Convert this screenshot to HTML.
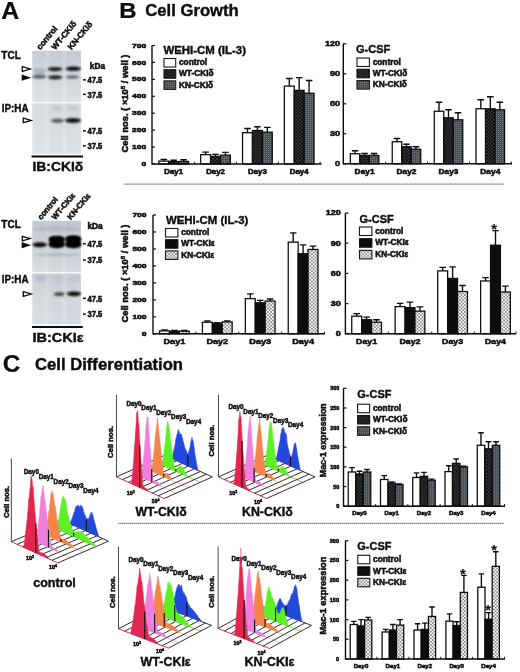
<!DOCTYPE html>
<html><head><meta charset="utf-8"><title>Figure</title>
<style>html,body{margin:0;padding:0;background:#fff;}svg{display:block;}text{font-family:"Liberation Sans",sans-serif;}</style>
</head><body>
<svg width="520" height="672" viewBox="0 0 520 672">
<rect width="520" height="672" fill="#fff"/>
<g filter="url(#soft)">
<defs>
<filter id="b1" x="-20%" y="-100%" width="140%" height="300%"><feGaussianBlur stdDeviation="0.9"/></filter>
<filter id="b2" x="-20%" y="-100%" width="140%" height="300%"><feGaussianBlur stdDeviation="1.3"/></filter>
<filter id="soft" x="0" y="0" width="520" height="672" filterUnits="userSpaceOnUse"><feGaussianBlur stdDeviation="0.33"/></filter>
<pattern id="pWTd" width="3.4" height="3.4" patternUnits="userSpaceOnUse"><rect width="3.4" height="3.4" fill="#0e0e0e"/><rect x="0.2" y="0.2" width="1.1" height="1.1" fill="#707070"/><rect x="1.9" y="1.9" width="1.1" height="1.1" fill="#707070"/></pattern>
<pattern id="pKNd" width="2" height="2" patternUnits="userSpaceOnUse"><rect width="2" height="2" fill="#4c5054"/><rect x="0" y="0" width="1" height="1" fill="#767a80"/></pattern>
<pattern id="pKNe" width="3.4" height="3.4" patternUnits="userSpaceOnUse"><rect width="3.4" height="3.4" fill="#fff"/><rect x="0.2" y="0.2" width="1.3" height="1.3" fill="#3c3c3c"/><rect x="1.9" y="1.9" width="1.3" height="1.3" fill="#3c3c3c"/></pattern>
<linearGradient id="gTCLd" x1="0" y1="0" x2="0" y2="1"><stop offset="0" stop-color="#cdd3d8"/><stop offset=".6" stop-color="#dde2e6"/><stop offset="1" stop-color="#e6eaed"/></linearGradient>
<linearGradient id="gIPd" x1="0" y1="0" x2="0" y2="1"><stop offset="0" stop-color="#dce1e5"/><stop offset="1" stop-color="#e7ebee"/></linearGradient>
<linearGradient id="gTCLe" x1="0" y1="0" x2="0" y2="1"><stop offset="0" stop-color="#c9cfd5"/><stop offset=".6" stop-color="#d6dbe0"/><stop offset="1" stop-color="#dfe4e8"/></linearGradient>
<linearGradient id="gIPe" x1="0" y1="0" x2="0" y2="1"><stop offset="0" stop-color="#d0d6dc"/><stop offset=".5" stop-color="#dbe0e5"/><stop offset="1" stop-color="#e0e5e9"/></linearGradient>
</defs>
<text x="1.20" y="18.50" font-size="23.4" font-weight="bold" text-anchor="start" fill="#0a0a0a" stroke="#0a0a0a" stroke-width="0.2" textLength="18.00" lengthAdjust="spacingAndGlyphs" >A</text>
<text x="119.20" y="17.60" font-size="21.8" font-weight="bold" text-anchor="start" fill="#0a0a0a" stroke="#0a0a0a" stroke-width="0.2" textLength="17.30" lengthAdjust="spacingAndGlyphs" >B</text>
<text x="145.30" y="15.50" font-size="16.2" font-weight="bold" text-anchor="start" fill="#0a0a0a" stroke="#0a0a0a" stroke-width="0.35" textLength="93.50" lengthAdjust="spacingAndGlyphs" >Cell Growth</text>
<text x="2.80" y="371.60" font-size="23.2" font-weight="bold" text-anchor="start" fill="#0a0a0a" stroke="#0a0a0a" stroke-width="0.2" textLength="17.60" lengthAdjust="spacingAndGlyphs" >C</text>
<text x="35.00" y="370.40" font-size="16.3" font-weight="bold" text-anchor="start" fill="#0a0a0a" stroke="#0a0a0a" stroke-width="0.35" textLength="148.00" lengthAdjust="spacingAndGlyphs" >Cell Differentiation</text>
<rect x="32.2" y="50.8" width="48.8" height="51.2" fill="url(#gTCLd)"/>
<rect x="32.2" y="103.4" width="48.8" height="50.9" fill="url(#gIPd)"/>
<rect x="33.5" y="50.8" width="12.5" height="51.2" fill="#5a6470" opacity="0.05" filter="url(#b2)"/>
<rect x="33.5" y="103.4" width="12.5" height="50.9" fill="#5a6470" opacity="0.05" filter="url(#b2)"/>
<rect x="48.5" y="50.8" width="14.5" height="51.2" fill="#5a6470" opacity="0.07" filter="url(#b2)"/>
<rect x="48.5" y="103.4" width="14.5" height="50.9" fill="#5a6470" opacity="0.07" filter="url(#b2)"/>
<rect x="65.5" y="50.8" width="15" height="51.2" fill="#5a6470" opacity="0.07" filter="url(#b2)"/>
<rect x="65.5" y="103.4" width="15" height="50.9" fill="#5a6470" opacity="0.07" filter="url(#b2)"/>
<ellipse cx="55.00" cy="69.10" rx="7.50" ry="2.10" fill="#1c2226" opacity="1" filter="url(#b1)"/>
<ellipse cx="73.25" cy="68.70" rx="7.75" ry="2.10" fill="#0c1114" opacity="1" filter="url(#b1)"/>
<ellipse cx="39.25" cy="76.50" rx="6.75" ry="2.30" fill="#3a4448" opacity="0.75" filter="url(#b1)"/>
<ellipse cx="55.25" cy="77.30" rx="7.25" ry="2.10" fill="#20282c" opacity="1" filter="url(#b1)"/>
<ellipse cx="72.50" cy="77.00" rx="6.50" ry="1.80" fill="#404a50" opacity="0.75" filter="url(#b1)"/>
<ellipse cx="39.50" cy="70.80" rx="6.50" ry="3.00" fill="#7a868c" opacity="0.4" filter="url(#b2)"/>
<ellipse cx="57.50" cy="120.70" rx="6.50" ry="2.20" fill="#36424a" opacity="0.8" filter="url(#b1)"/>
<ellipse cx="73.00" cy="120.40" rx="8.00" ry="2.50" fill="#151515" opacity="1" filter="url(#b1)"/>
<ellipse cx="57.00" cy="108.40" rx="5.00" ry="1.50" fill="#a8aeb4" opacity="0.5" filter="url(#b2)"/>
<ellipse cx="73.00" cy="108.40" rx="6.00" ry="1.50" fill="#a8aeb4" opacity="0.5" filter="url(#b2)"/>
<text x="1.30" y="59.20" font-size="10" font-weight="bold" text-anchor="start" fill="#0a0a0a" stroke="#0a0a0a" stroke-width="0.35" textLength="19.50" lengthAdjust="spacingAndGlyphs" >TCL</text>
<text x="1.80" y="111.60" font-size="10" font-weight="bold" text-anchor="start" fill="#0a0a0a" stroke="#0a0a0a" stroke-width="0.35" textLength="26.80" lengthAdjust="spacingAndGlyphs" >IP:HA</text>
<polygon points="22.3,66.7 30.2,69 22.3,71.3" fill="#fff" stroke="#0a0a0a" stroke-width="1.25" stroke-linejoin="miter"/>
<polygon points="21.7,74.60000000000001 31.2,77.7 21.7,80.8" fill="#0a0a0a"/>
<polygon points="23.3,118.10000000000001 31.2,120.4 23.3,122.7" fill="#fff" stroke="#0a0a0a" stroke-width="1.25" stroke-linejoin="miter"/>
<text x="89.80" y="68.70" font-size="8.3" font-weight="bold" text-anchor="start" fill="#0a0a0a" stroke="#0a0a0a" stroke-width="0.5" >kDa</text>
<rect x="83" y="79.10" width="2.8" height="1.5" fill="#0c0c0c"/>
<text x="87.50" y="83.10" font-size="8.4" font-weight="bold" text-anchor="start" fill="#0a0a0a" stroke="#0a0a0a" stroke-width="0.5" textLength="14.80" lengthAdjust="spacingAndGlyphs" >47.5</text>
<rect x="83" y="93.60" width="2.8" height="1.5" fill="#0c0c0c"/>
<text x="87.50" y="97.60" font-size="8.4" font-weight="bold" text-anchor="start" fill="#0a0a0a" stroke="#0a0a0a" stroke-width="0.5" textLength="14.80" lengthAdjust="spacingAndGlyphs" >37.5</text>
<rect x="83" y="130.10" width="2.8" height="1.5" fill="#0c0c0c"/>
<text x="87.50" y="134.10" font-size="8.4" font-weight="bold" text-anchor="start" fill="#0a0a0a" stroke="#0a0a0a" stroke-width="0.5" textLength="14.80" lengthAdjust="spacingAndGlyphs" >47.5</text>
<rect x="83" y="145.10" width="2.8" height="1.5" fill="#0c0c0c"/>
<text x="87.50" y="149.10" font-size="8.4" font-weight="bold" text-anchor="start" fill="#0a0a0a" stroke="#0a0a0a" stroke-width="0.5" textLength="14.80" lengthAdjust="spacingAndGlyphs" >37.5</text>
<text x="40.30" y="50.30" font-size="8.2" font-weight="bold" text-anchor="start" fill="#0a0a0a" stroke="#0a0a0a" stroke-width="0.5" transform="rotate(-50.5 40.30 50.30)" >control</text>
<text x="55.30" y="50.30" font-size="8.2" font-weight="bold" text-anchor="start" fill="#0a0a0a" stroke="#0a0a0a" stroke-width="0.5" transform="rotate(-50.5 55.30 50.30)" >WT-CKIδ</text>
<text x="71.60" y="50.30" font-size="8.2" font-weight="bold" text-anchor="start" fill="#0a0a0a" stroke="#0a0a0a" stroke-width="0.5" transform="rotate(-50.5 71.60 50.30)" >KN-CKIδ</text>
<line x1="31.6" y1="156.6" x2="83" y2="156.6" stroke="#0a0a0a" stroke-width="2"/>
<text x="32.40" y="170.60" font-size="13.6" font-weight="bold" text-anchor="start" fill="#0a0a0a" stroke="#0a0a0a" stroke-width="0.35" textLength="50.80" lengthAdjust="spacingAndGlyphs" >IB:CKIδ</text>
<rect x="32.2" y="220.8" width="48.8" height="51.2" fill="url(#gTCLe)"/>
<rect x="32.2" y="273.40000000000003" width="48.8" height="50.9" fill="url(#gIPe)"/>
<rect x="33.5" y="220.8" width="12.5" height="51.2" fill="#5a6470" opacity="0.05" filter="url(#b2)"/>
<rect x="33.5" y="273.40000000000003" width="12.5" height="50.9" fill="#5a6470" opacity="0.05" filter="url(#b2)"/>
<rect x="48.5" y="220.8" width="14.5" height="51.2" fill="#5a6470" opacity="0.07" filter="url(#b2)"/>
<rect x="48.5" y="273.40000000000003" width="14.5" height="50.9" fill="#5a6470" opacity="0.07" filter="url(#b2)"/>
<rect x="65.5" y="220.8" width="15" height="51.2" fill="#5a6470" opacity="0.07" filter="url(#b2)"/>
<rect x="65.5" y="273.40000000000003" width="15" height="50.9" fill="#5a6470" opacity="0.07" filter="url(#b2)"/>
<ellipse cx="39.75" cy="244.80" rx="7.25" ry="2.50" fill="#0a0a0a" opacity="1" filter="url(#b1)"/>
<ellipse cx="56.75" cy="239.40" rx="8.25" ry="3.40" fill="#000" opacity="1" filter="url(#b1)"/>
<ellipse cx="56.75" cy="244.40" rx="8.25" ry="3.75" fill="#000" opacity="1" filter="url(#b1)"/>
<ellipse cx="73.25" cy="239.10" rx="8.25" ry="3.70" fill="#000" opacity="1" filter="url(#b1)"/>
<ellipse cx="73.25" cy="244.40" rx="8.25" ry="3.75" fill="#000" opacity="1" filter="url(#b1)"/>
<rect x="50" y="237.10000000000002" width="13.5" height="9.4" rx="3" fill="#050505" filter="url(#b1)"/>
<rect x="66.5" y="236.8" width="13.5" height="9.7" rx="3" fill="#050505" filter="url(#b1)"/>
<ellipse cx="56.50" cy="254.80" rx="23.50" ry="1.75" fill="#9aa0a8" opacity="0.45" filter="url(#b2)"/>
<ellipse cx="56.50" cy="228.80" rx="23.50" ry="2.50" fill="#8a929a" opacity="0.3" filter="url(#b2)"/>
<ellipse cx="59.25" cy="294.00" rx="5.25" ry="2.10" fill="#333" opacity="0.85" filter="url(#b1)"/>
<ellipse cx="74.00" cy="293.80" rx="7.00" ry="2.40" fill="#0c0c0c" opacity="1" filter="url(#b1)"/>
<ellipse cx="41.00" cy="278.40" rx="6.00" ry="3.50" fill="#a4aab2" opacity="0.5" filter="url(#b2)"/>
<ellipse cx="57.50" cy="279.40" rx="5.50" ry="3.00" fill="#b0b6bc" opacity="0.35" filter="url(#b2)"/>
<ellipse cx="74.00" cy="279.40" rx="6.00" ry="3.00" fill="#b0b6bc" opacity="0.35" filter="url(#b2)"/>
<text x="1.30" y="228.40" font-size="10" font-weight="bold" text-anchor="start" fill="#0a0a0a" stroke="#0a0a0a" stroke-width="0.35" textLength="19.50" lengthAdjust="spacingAndGlyphs" >TCL</text>
<text x="1.80" y="282.70" font-size="10" font-weight="bold" text-anchor="start" fill="#0a0a0a" stroke="#0a0a0a" stroke-width="0.35" textLength="26.80" lengthAdjust="spacingAndGlyphs" >IP:HA</text>
<polygon points="22.3,236.29999999999998 30.2,238.6 22.3,240.9" fill="#fff" stroke="#0a0a0a" stroke-width="1.25" stroke-linejoin="miter"/>
<polygon points="21.7,242.1 31.2,245.2 21.7,248.29999999999998" fill="#0a0a0a"/>
<polygon points="23.3,291.7 31.2,294 23.3,296.3" fill="#fff" stroke="#0a0a0a" stroke-width="1.25" stroke-linejoin="miter"/>
<text x="87.40" y="228.80" font-size="8.3" font-weight="bold" text-anchor="start" fill="#0a0a0a" stroke="#0a0a0a" stroke-width="0.5" >kDa</text>
<rect x="83" y="243.00" width="2.8" height="1.5" fill="#0c0c0c"/>
<text x="87.50" y="247.00" font-size="8.4" font-weight="bold" text-anchor="start" fill="#0a0a0a" stroke="#0a0a0a" stroke-width="0.5" textLength="14.80" lengthAdjust="spacingAndGlyphs" >47.5</text>
<rect x="83" y="259.30" width="2.8" height="1.5" fill="#0c0c0c"/>
<text x="87.50" y="263.30" font-size="8.4" font-weight="bold" text-anchor="start" fill="#0a0a0a" stroke="#0a0a0a" stroke-width="0.5" textLength="14.80" lengthAdjust="spacingAndGlyphs" >37.5</text>
<rect x="83" y="297.60" width="2.8" height="1.5" fill="#0c0c0c"/>
<text x="87.50" y="301.60" font-size="8.4" font-weight="bold" text-anchor="start" fill="#0a0a0a" stroke="#0a0a0a" stroke-width="0.5" textLength="14.80" lengthAdjust="spacingAndGlyphs" >47.5</text>
<rect x="83" y="313.40" width="2.8" height="1.5" fill="#0c0c0c"/>
<text x="87.50" y="317.40" font-size="8.4" font-weight="bold" text-anchor="start" fill="#0a0a0a" stroke="#0a0a0a" stroke-width="0.5" textLength="14.80" lengthAdjust="spacingAndGlyphs" >37.5</text>
<text x="41.20" y="220.20" font-size="7.9" font-weight="bold" text-anchor="start" fill="#0a0a0a" stroke="#0a0a0a" stroke-width="0.5" transform="rotate(-50 41.20 220.20)" >control</text>
<text x="55.30" y="220.20" font-size="7.9" font-weight="bold" text-anchor="start" fill="#0a0a0a" stroke="#0a0a0a" stroke-width="0.5" transform="rotate(-50 55.30 220.20)" >WT-CKIε</text>
<text x="70.80" y="220.20" font-size="7.9" font-weight="bold" text-anchor="start" fill="#0a0a0a" stroke="#0a0a0a" stroke-width="0.5" transform="rotate(-50 70.80 220.20)" >KN-CKIε</text>
<line x1="32" y1="327" x2="82.8" y2="327" stroke="#111" stroke-width="1.9"/>
<text x="32.40" y="342.30" font-size="13.6" font-weight="bold" text-anchor="start" fill="#0a0a0a" stroke="#0a0a0a" stroke-width="0.35" textLength="51.20" lengthAdjust="spacingAndGlyphs" >IB:CKIε</text>
<path d="M163.80,161.12 V159.43 M160.55,159.43 H167.05" stroke="#0a0a0a" stroke-width="1.35" fill="none"/>
<rect x="158.85" y="161.12" width="9.90" height="2.88" fill="#fff" stroke="#0a0a0a" stroke-width="1.25"/>
<path d="M173.70,161.63 V160.28 M170.45,160.28 H176.95" stroke="#0a0a0a" stroke-width="1.35" fill="none"/>
<rect x="168.75" y="161.63" width="9.90" height="2.37" fill="url(#pWTd)" stroke="#0a0a0a" stroke-width="1.25"/>
<path d="M183.60,161.46 V159.77 M180.35,159.77 H186.85" stroke="#0a0a0a" stroke-width="1.35" fill="none"/>
<rect x="178.65" y="161.46" width="9.90" height="2.54" fill="url(#pKNd)" stroke="#0a0a0a" stroke-width="1.25"/>
<path d="M205.60,154.69 V152.15 M202.35,152.15 H208.85" stroke="#0a0a0a" stroke-width="1.35" fill="none"/>
<rect x="200.65" y="154.69" width="9.90" height="9.31" fill="#fff" stroke="#0a0a0a" stroke-width="1.25"/>
<path d="M215.50,156.38 V154.35 M212.25,154.35 H218.75" stroke="#0a0a0a" stroke-width="1.35" fill="none"/>
<rect x="210.55" y="156.38" width="9.90" height="7.62" fill="url(#pWTd)" stroke="#0a0a0a" stroke-width="1.25"/>
<path d="M225.40,155.20 V152.32 M222.15,152.32 H228.65" stroke="#0a0a0a" stroke-width="1.35" fill="none"/>
<rect x="220.45" y="155.20" width="9.90" height="8.80" fill="url(#pKNd)" stroke="#0a0a0a" stroke-width="1.25"/>
<path d="M247.50,132.68 V128.45 M244.25,128.45 H250.75" stroke="#0a0a0a" stroke-width="1.35" fill="none"/>
<rect x="242.55" y="132.68" width="9.90" height="31.32" fill="#fff" stroke="#0a0a0a" stroke-width="1.25"/>
<path d="M257.40,130.48 V126.76 M254.15,126.76 H260.65" stroke="#0a0a0a" stroke-width="1.35" fill="none"/>
<rect x="252.45" y="130.48" width="9.90" height="33.52" fill="url(#pWTd)" stroke="#0a0a0a" stroke-width="1.25"/>
<path d="M267.30,132.17 V127.43 M264.05,127.43 H270.55" stroke="#0a0a0a" stroke-width="1.35" fill="none"/>
<rect x="262.35" y="132.17" width="9.90" height="31.83" fill="url(#pKNd)" stroke="#0a0a0a" stroke-width="1.25"/>
<path d="M289.30,86.13 V78.51 M286.05,78.51 H292.55" stroke="#0a0a0a" stroke-width="1.35" fill="none"/>
<rect x="284.35" y="86.13" width="9.90" height="77.87" fill="#fff" stroke="#0a0a0a" stroke-width="1.25"/>
<path d="M299.20,90.36 V77.66 M295.95,77.66 H302.45" stroke="#0a0a0a" stroke-width="1.35" fill="none"/>
<rect x="294.25" y="90.36" width="9.90" height="73.64" fill="url(#pWTd)" stroke="#0a0a0a" stroke-width="1.25"/>
<path d="M309.10,93.24 V80.54 M305.85,80.54 H312.35" stroke="#0a0a0a" stroke-width="1.35" fill="none"/>
<rect x="304.15" y="93.24" width="9.90" height="70.76" fill="url(#pKNd)" stroke="#0a0a0a" stroke-width="1.25"/>
<path d="M152.00,45.50 V164.00 H321.50" stroke="#0a0a0a" stroke-width="1.4" fill="none"/>
<line x1="152.00" y1="164.00" x2="154.90" y2="164.00" stroke="#0a0a0a" stroke-width="1.2"/>
<text x="146.20" y="166.09" font-size="5.8" font-weight="bold" text-anchor="end" fill="#0a0a0a" stroke="#0a0a0a" stroke-width="0.5" textLength="4.70" lengthAdjust="spacingAndGlyphs" >0</text>
<line x1="152.00" y1="147.07" x2="154.90" y2="147.07" stroke="#0a0a0a" stroke-width="1.2"/>
<text x="146.20" y="149.16" font-size="5.8" font-weight="bold" text-anchor="end" fill="#0a0a0a" stroke="#0a0a0a" stroke-width="0.5" textLength="14.10" lengthAdjust="spacingAndGlyphs" >100</text>
<line x1="152.00" y1="130.14" x2="154.90" y2="130.14" stroke="#0a0a0a" stroke-width="1.2"/>
<text x="146.20" y="132.23" font-size="5.8" font-weight="bold" text-anchor="end" fill="#0a0a0a" stroke="#0a0a0a" stroke-width="0.5" textLength="14.10" lengthAdjust="spacingAndGlyphs" >200</text>
<line x1="152.00" y1="113.21" x2="154.90" y2="113.21" stroke="#0a0a0a" stroke-width="1.2"/>
<text x="146.20" y="115.30" font-size="5.8" font-weight="bold" text-anchor="end" fill="#0a0a0a" stroke="#0a0a0a" stroke-width="0.5" textLength="14.10" lengthAdjust="spacingAndGlyphs" >300</text>
<line x1="152.00" y1="96.29" x2="154.90" y2="96.29" stroke="#0a0a0a" stroke-width="1.2"/>
<text x="146.20" y="98.37" font-size="5.8" font-weight="bold" text-anchor="end" fill="#0a0a0a" stroke="#0a0a0a" stroke-width="0.5" textLength="14.10" lengthAdjust="spacingAndGlyphs" >400</text>
<line x1="152.00" y1="79.36" x2="154.90" y2="79.36" stroke="#0a0a0a" stroke-width="1.2"/>
<text x="146.20" y="81.45" font-size="5.8" font-weight="bold" text-anchor="end" fill="#0a0a0a" stroke="#0a0a0a" stroke-width="0.5" textLength="14.10" lengthAdjust="spacingAndGlyphs" >500</text>
<line x1="152.00" y1="62.43" x2="154.90" y2="62.43" stroke="#0a0a0a" stroke-width="1.2"/>
<text x="146.20" y="64.52" font-size="5.8" font-weight="bold" text-anchor="end" fill="#0a0a0a" stroke="#0a0a0a" stroke-width="0.5" textLength="14.10" lengthAdjust="spacingAndGlyphs" >600</text>
<line x1="152.00" y1="45.50" x2="154.90" y2="45.50" stroke="#0a0a0a" stroke-width="1.2"/>
<text x="146.20" y="47.59" font-size="5.8" font-weight="bold" text-anchor="end" fill="#0a0a0a" stroke="#0a0a0a" stroke-width="0.5" textLength="14.10" lengthAdjust="spacingAndGlyphs" >700</text>
<line x1="194.60" y1="164.00" x2="194.60" y2="161.80" stroke="#151515" stroke-width="1"/>
<line x1="236.40" y1="164.00" x2="236.40" y2="161.80" stroke="#151515" stroke-width="1"/>
<line x1="278.30" y1="164.00" x2="278.30" y2="161.80" stroke="#151515" stroke-width="1"/>
<line x1="320.10" y1="164.00" x2="320.10" y2="161.80" stroke="#151515" stroke-width="1"/>
<text x="173.70" y="174.00" font-size="6.7" font-weight="bold" text-anchor="middle" fill="#0a0a0a" stroke="#0a0a0a" stroke-width="0.5" textLength="18.70" lengthAdjust="spacingAndGlyphs" >Day1</text>
<text x="215.50" y="174.00" font-size="6.7" font-weight="bold" text-anchor="middle" fill="#0a0a0a" stroke="#0a0a0a" stroke-width="0.5" textLength="18.70" lengthAdjust="spacingAndGlyphs" >Day2</text>
<text x="257.40" y="174.00" font-size="6.7" font-weight="bold" text-anchor="middle" fill="#0a0a0a" stroke="#0a0a0a" stroke-width="0.5" textLength="18.70" lengthAdjust="spacingAndGlyphs" >Day3</text>
<text x="299.20" y="174.00" font-size="6.7" font-weight="bold" text-anchor="middle" fill="#0a0a0a" stroke="#0a0a0a" stroke-width="0.5" textLength="18.70" lengthAdjust="spacingAndGlyphs" >Day4</text>
<text x="163.40" y="53.50" font-size="11.3" font-weight="bold" text-anchor="start" fill="#0a0a0a" stroke="#0a0a0a" stroke-width="0.35" textLength="82.60" lengthAdjust="spacingAndGlyphs" >WEHI-CM (IL-3)</text>
<rect x="164.00" y="58.50" width="11.7" height="8.5" fill="#fff" stroke="#151515" stroke-width="1.1"/>
<text x="179.00" y="65.20" font-size="8.3" font-weight="bold" text-anchor="start" fill="#0a0a0a" stroke="#0a0a0a" stroke-width="0.5" >control</text>
<rect x="164.00" y="69.70" width="11.7" height="8.5" fill="url(#pWTd)" stroke="#151515" stroke-width="1.1"/>
<text x="179.00" y="76.40" font-size="8.3" font-weight="bold" text-anchor="start" fill="#0a0a0a" stroke="#0a0a0a" stroke-width="0.5" >WT-CKIδ</text>
<rect x="164.00" y="80.90" width="11.7" height="8.5" fill="url(#pKNd)" stroke="#151515" stroke-width="1.1"/>
<text x="179.00" y="87.60" font-size="8.3" font-weight="bold" text-anchor="start" fill="#0a0a0a" stroke="#0a0a0a" stroke-width="0.5" >KN-CKIδ</text>
<path d="M355.10,153.75 V150.76 M351.85,150.76 H358.35" stroke="#0a0a0a" stroke-width="1.35" fill="none"/>
<rect x="350.35" y="153.75" width="9.50" height="10.00" fill="#fff" stroke="#0a0a0a" stroke-width="1.25"/>
<path d="M364.60,155.45 V153.45 M361.35,153.45 H367.85" stroke="#0a0a0a" stroke-width="1.35" fill="none"/>
<rect x="359.85" y="155.45" width="9.50" height="8.30" fill="url(#pWTd)" stroke="#0a0a0a" stroke-width="1.25"/>
<path d="M374.10,155.45 V153.45 M370.85,153.45 H377.35" stroke="#0a0a0a" stroke-width="1.35" fill="none"/>
<rect x="369.35" y="155.45" width="9.50" height="8.30" fill="url(#pKNd)" stroke="#0a0a0a" stroke-width="1.25"/>
<path d="M397.00,141.76 V138.46 M393.75,138.46 H400.25" stroke="#0a0a0a" stroke-width="1.35" fill="none"/>
<rect x="392.25" y="141.76" width="9.50" height="21.99" fill="#fff" stroke="#0a0a0a" stroke-width="1.25"/>
<path d="M406.50,146.76 V144.26 M403.25,144.26 H409.75" stroke="#0a0a0a" stroke-width="1.35" fill="none"/>
<rect x="401.75" y="146.76" width="9.50" height="16.99" fill="url(#pWTd)" stroke="#0a0a0a" stroke-width="1.25"/>
<path d="M416.00,149.26 V146.76 M412.75,146.76 H419.25" stroke="#0a0a0a" stroke-width="1.35" fill="none"/>
<rect x="411.25" y="149.26" width="9.50" height="14.49" fill="url(#pKNd)" stroke="#0a0a0a" stroke-width="1.25"/>
<path d="M439.00,111.27 V102.28 M435.75,102.28 H442.25" stroke="#0a0a0a" stroke-width="1.35" fill="none"/>
<rect x="434.25" y="111.27" width="9.50" height="52.48" fill="#fff" stroke="#0a0a0a" stroke-width="1.25"/>
<path d="M448.50,117.77 V109.77 M445.25,109.77 H451.75" stroke="#0a0a0a" stroke-width="1.35" fill="none"/>
<rect x="443.75" y="117.77" width="9.50" height="45.98" fill="url(#pWTd)" stroke="#0a0a0a" stroke-width="1.25"/>
<path d="M458.00,119.77 V112.77 M454.75,112.77 H461.25" stroke="#0a0a0a" stroke-width="1.35" fill="none"/>
<rect x="453.25" y="119.77" width="9.50" height="43.98" fill="url(#pKNd)" stroke="#0a0a0a" stroke-width="1.25"/>
<path d="M480.80,108.77 V99.78 M477.55,99.78 H484.05" stroke="#0a0a0a" stroke-width="1.35" fill="none"/>
<rect x="476.05" y="108.77" width="9.50" height="54.98" fill="#fff" stroke="#0a0a0a" stroke-width="1.25"/>
<path d="M490.30,108.77 V96.78 M487.05,96.78 H493.55" stroke="#0a0a0a" stroke-width="1.35" fill="none"/>
<rect x="485.55" y="108.77" width="9.50" height="54.98" fill="url(#pWTd)" stroke="#0a0a0a" stroke-width="1.25"/>
<path d="M499.80,109.77 V102.28 M496.55,102.28 H503.05" stroke="#0a0a0a" stroke-width="1.35" fill="none"/>
<rect x="495.05" y="109.77" width="9.50" height="53.98" fill="url(#pKNd)" stroke="#0a0a0a" stroke-width="1.25"/>
<path d="M343.30,43.80 V163.75 H512.00" stroke="#0a0a0a" stroke-width="1.4" fill="none"/>
<line x1="343.30" y1="163.75" x2="346.20" y2="163.75" stroke="#0a0a0a" stroke-width="1.2"/>
<text x="340.00" y="166.13" font-size="6.6" font-weight="bold" text-anchor="end" fill="#0a0a0a" stroke="#0a0a0a" stroke-width="0.5" textLength="5.00" lengthAdjust="spacingAndGlyphs" >0</text>
<line x1="343.30" y1="133.76" x2="346.20" y2="133.76" stroke="#0a0a0a" stroke-width="1.2"/>
<text x="340.00" y="136.14" font-size="6.6" font-weight="bold" text-anchor="end" fill="#0a0a0a" stroke="#0a0a0a" stroke-width="0.5" textLength="10.00" lengthAdjust="spacingAndGlyphs" >30</text>
<line x1="343.30" y1="103.78" x2="346.20" y2="103.78" stroke="#0a0a0a" stroke-width="1.2"/>
<text x="340.00" y="106.15" font-size="6.6" font-weight="bold" text-anchor="end" fill="#0a0a0a" stroke="#0a0a0a" stroke-width="0.5" textLength="10.00" lengthAdjust="spacingAndGlyphs" >60</text>
<line x1="343.30" y1="73.79" x2="346.20" y2="73.79" stroke="#0a0a0a" stroke-width="1.2"/>
<text x="340.00" y="76.16" font-size="6.6" font-weight="bold" text-anchor="end" fill="#0a0a0a" stroke="#0a0a0a" stroke-width="0.5" textLength="10.00" lengthAdjust="spacingAndGlyphs" >90</text>
<line x1="343.30" y1="43.80" x2="346.20" y2="43.80" stroke="#0a0a0a" stroke-width="1.2"/>
<text x="340.00" y="46.18" font-size="6.6" font-weight="bold" text-anchor="end" fill="#0a0a0a" stroke="#0a0a0a" stroke-width="0.5" textLength="15.00" lengthAdjust="spacingAndGlyphs" >120</text>
<line x1="385.55" y1="163.75" x2="385.55" y2="161.55" stroke="#151515" stroke-width="1"/>
<line x1="427.45" y1="163.75" x2="427.45" y2="161.55" stroke="#151515" stroke-width="1"/>
<line x1="469.45" y1="163.75" x2="469.45" y2="161.55" stroke="#151515" stroke-width="1"/>
<line x1="511.25" y1="163.75" x2="511.25" y2="161.55" stroke="#151515" stroke-width="1"/>
<text x="364.60" y="174.20" font-size="7.4" font-weight="bold" text-anchor="middle" fill="#0a0a0a" stroke="#0a0a0a" stroke-width="0.5" textLength="20.00" lengthAdjust="spacingAndGlyphs" >Day1</text>
<text x="406.50" y="174.20" font-size="7.4" font-weight="bold" text-anchor="middle" fill="#0a0a0a" stroke="#0a0a0a" stroke-width="0.5" textLength="20.00" lengthAdjust="spacingAndGlyphs" >Day2</text>
<text x="448.50" y="174.20" font-size="7.4" font-weight="bold" text-anchor="middle" fill="#0a0a0a" stroke="#0a0a0a" stroke-width="0.5" textLength="20.00" lengthAdjust="spacingAndGlyphs" >Day3</text>
<text x="490.30" y="174.20" font-size="7.4" font-weight="bold" text-anchor="middle" fill="#0a0a0a" stroke="#0a0a0a" stroke-width="0.5" textLength="20.00" lengthAdjust="spacingAndGlyphs" >Day4</text>
<text x="356.00" y="53.00" font-size="11" font-weight="bold" text-anchor="start" fill="#0a0a0a" stroke="#0a0a0a" stroke-width="0.35" >G-CSF</text>
<rect x="357.00" y="58.00" width="12.4" height="8.5" fill="#fff" stroke="#151515" stroke-width="1.1"/>
<text x="372.70" y="64.70" font-size="8.3" font-weight="bold" text-anchor="start" fill="#0a0a0a" stroke="#0a0a0a" stroke-width="0.5" >control</text>
<rect x="357.00" y="69.30" width="12.4" height="8.5" fill="url(#pWTd)" stroke="#151515" stroke-width="1.1"/>
<text x="372.70" y="76.00" font-size="8.3" font-weight="bold" text-anchor="start" fill="#0a0a0a" stroke="#0a0a0a" stroke-width="0.5" >WT-CKIδ</text>
<rect x="357.00" y="80.60" width="12.4" height="8.5" fill="url(#pKNd)" stroke="#151515" stroke-width="1.1"/>
<text x="372.70" y="87.30" font-size="8.3" font-weight="bold" text-anchor="start" fill="#0a0a0a" stroke="#0a0a0a" stroke-width="0.5" >KN-CKIδ</text>
<path d="M164.50,330.91 V329.90 M161.25,329.90 H167.75" stroke="#0a0a0a" stroke-width="1.35" fill="none"/>
<rect x="159.55" y="330.91" width="9.90" height="2.89" fill="#fff" stroke="#0a0a0a" stroke-width="1.25"/>
<path d="M174.40,331.25 V330.41 M171.15,330.41 H177.65" stroke="#0a0a0a" stroke-width="1.35" fill="none"/>
<rect x="169.45" y="331.25" width="9.90" height="2.55" fill="#0a0a0a" stroke="#0a0a0a" stroke-width="1.25"/>
<path d="M184.30,331.25 V330.41 M181.05,330.41 H187.55" stroke="#0a0a0a" stroke-width="1.35" fill="none"/>
<rect x="179.35" y="331.25" width="9.90" height="2.55" fill="url(#pKNe)" stroke="#0a0a0a" stroke-width="1.25"/>
<path d="M207.40,322.26 V320.90 M204.15,320.90 H210.65" stroke="#0a0a0a" stroke-width="1.35" fill="none"/>
<rect x="202.45" y="322.26" width="9.90" height="11.54" fill="#fff" stroke="#0a0a0a" stroke-width="1.25"/>
<path d="M217.30,323.28 V322.60 M214.05,322.60 H220.55" stroke="#0a0a0a" stroke-width="1.35" fill="none"/>
<rect x="212.35" y="323.28" width="9.90" height="10.52" fill="#0a0a0a" stroke="#0a0a0a" stroke-width="1.25"/>
<path d="M227.20,321.92 V320.90 M223.95,320.90 H230.45" stroke="#0a0a0a" stroke-width="1.35" fill="none"/>
<rect x="222.25" y="321.92" width="9.90" height="11.88" fill="url(#pKNe)" stroke="#0a0a0a" stroke-width="1.25"/>
<path d="M250.30,298.67 V293.92 M247.05,293.92 H253.55" stroke="#0a0a0a" stroke-width="1.35" fill="none"/>
<rect x="245.35" y="298.67" width="9.90" height="35.13" fill="#fff" stroke="#0a0a0a" stroke-width="1.25"/>
<path d="M260.20,302.74 V300.37 M256.95,300.37 H263.45" stroke="#0a0a0a" stroke-width="1.35" fill="none"/>
<rect x="255.25" y="302.74" width="9.90" height="31.06" fill="#0a0a0a" stroke="#0a0a0a" stroke-width="1.25"/>
<path d="M270.10,301.05 V299.01 M266.85,299.01 H273.35" stroke="#0a0a0a" stroke-width="1.35" fill="none"/>
<rect x="265.15" y="301.05" width="9.90" height="32.75" fill="url(#pKNe)" stroke="#0a0a0a" stroke-width="1.25"/>
<path d="M293.20,242.15 V232.82 M289.95,232.82 H296.45" stroke="#0a0a0a" stroke-width="1.35" fill="none"/>
<rect x="288.25" y="242.15" width="9.90" height="91.65" fill="#fff" stroke="#0a0a0a" stroke-width="1.25"/>
<path d="M303.10,253.69 V244.87 M299.85,244.87 H306.35" stroke="#0a0a0a" stroke-width="1.35" fill="none"/>
<rect x="298.15" y="253.69" width="9.90" height="80.11" fill="#0a0a0a" stroke="#0a0a0a" stroke-width="1.25"/>
<path d="M313.00,249.45 V246.06 M309.75,246.06 H316.25" stroke="#0a0a0a" stroke-width="1.35" fill="none"/>
<rect x="308.05" y="249.45" width="9.90" height="84.35" fill="url(#pKNe)" stroke="#0a0a0a" stroke-width="1.25"/>
<path d="M153.00,215.00 V333.80 H325.00" stroke="#0a0a0a" stroke-width="1.4" fill="none"/>
<line x1="153.00" y1="333.80" x2="155.90" y2="333.80" stroke="#0a0a0a" stroke-width="1.2"/>
<text x="146.50" y="335.89" font-size="5.8" font-weight="bold" text-anchor="end" fill="#0a0a0a" stroke="#0a0a0a" stroke-width="0.5" textLength="4.70" lengthAdjust="spacingAndGlyphs" >0</text>
<line x1="153.00" y1="316.83" x2="155.90" y2="316.83" stroke="#0a0a0a" stroke-width="1.2"/>
<text x="146.50" y="318.92" font-size="5.8" font-weight="bold" text-anchor="end" fill="#0a0a0a" stroke="#0a0a0a" stroke-width="0.5" textLength="14.10" lengthAdjust="spacingAndGlyphs" >100</text>
<line x1="153.00" y1="299.86" x2="155.90" y2="299.86" stroke="#0a0a0a" stroke-width="1.2"/>
<text x="146.50" y="301.95" font-size="5.8" font-weight="bold" text-anchor="end" fill="#0a0a0a" stroke="#0a0a0a" stroke-width="0.5" textLength="14.10" lengthAdjust="spacingAndGlyphs" >200</text>
<line x1="153.00" y1="282.89" x2="155.90" y2="282.89" stroke="#0a0a0a" stroke-width="1.2"/>
<text x="146.50" y="284.97" font-size="5.8" font-weight="bold" text-anchor="end" fill="#0a0a0a" stroke="#0a0a0a" stroke-width="0.5" textLength="14.10" lengthAdjust="spacingAndGlyphs" >300</text>
<line x1="153.00" y1="265.91" x2="155.90" y2="265.91" stroke="#0a0a0a" stroke-width="1.2"/>
<text x="146.50" y="268.00" font-size="5.8" font-weight="bold" text-anchor="end" fill="#0a0a0a" stroke="#0a0a0a" stroke-width="0.5" textLength="14.10" lengthAdjust="spacingAndGlyphs" >400</text>
<line x1="153.00" y1="248.94" x2="155.90" y2="248.94" stroke="#0a0a0a" stroke-width="1.2"/>
<text x="146.50" y="251.03" font-size="5.8" font-weight="bold" text-anchor="end" fill="#0a0a0a" stroke="#0a0a0a" stroke-width="0.5" textLength="14.10" lengthAdjust="spacingAndGlyphs" >500</text>
<line x1="153.00" y1="231.97" x2="155.90" y2="231.97" stroke="#0a0a0a" stroke-width="1.2"/>
<text x="146.50" y="234.06" font-size="5.8" font-weight="bold" text-anchor="end" fill="#0a0a0a" stroke="#0a0a0a" stroke-width="0.5" textLength="14.10" lengthAdjust="spacingAndGlyphs" >600</text>
<line x1="153.00" y1="215.00" x2="155.90" y2="215.00" stroke="#0a0a0a" stroke-width="1.2"/>
<text x="146.50" y="217.09" font-size="5.8" font-weight="bold" text-anchor="end" fill="#0a0a0a" stroke="#0a0a0a" stroke-width="0.5" textLength="14.10" lengthAdjust="spacingAndGlyphs" >700</text>
<line x1="195.85" y1="333.80" x2="195.85" y2="331.60" stroke="#151515" stroke-width="1"/>
<line x1="238.75" y1="333.80" x2="238.75" y2="331.60" stroke="#151515" stroke-width="1"/>
<line x1="281.65" y1="333.80" x2="281.65" y2="331.60" stroke="#151515" stroke-width="1"/>
<line x1="324.55" y1="333.80" x2="324.55" y2="331.60" stroke="#151515" stroke-width="1"/>
<text x="174.40" y="343.80" font-size="7.6" font-weight="bold" text-anchor="middle" fill="#0a0a0a" stroke="#0a0a0a" stroke-width="0.5" textLength="21.80" lengthAdjust="spacingAndGlyphs" >Day1</text>
<text x="217.30" y="343.80" font-size="7.6" font-weight="bold" text-anchor="middle" fill="#0a0a0a" stroke="#0a0a0a" stroke-width="0.5" textLength="21.80" lengthAdjust="spacingAndGlyphs" >Day2</text>
<text x="260.20" y="343.80" font-size="7.6" font-weight="bold" text-anchor="middle" fill="#0a0a0a" stroke="#0a0a0a" stroke-width="0.5" textLength="21.80" lengthAdjust="spacingAndGlyphs" >Day3</text>
<text x="303.10" y="343.80" font-size="7.6" font-weight="bold" text-anchor="middle" fill="#0a0a0a" stroke="#0a0a0a" stroke-width="0.5" textLength="21.80" lengthAdjust="spacingAndGlyphs" >Day4</text>
<text x="166.00" y="223.50" font-size="11.3" font-weight="bold" text-anchor="start" fill="#0a0a0a" stroke="#0a0a0a" stroke-width="0.35" textLength="82.30" lengthAdjust="spacingAndGlyphs" >WEHI-CM (IL-3)</text>
<rect x="165.50" y="228.50" width="12.4" height="8.5" fill="#fff" stroke="#151515" stroke-width="1.1"/>
<text x="181.20" y="235.20" font-size="8.3" font-weight="bold" text-anchor="start" fill="#0a0a0a" stroke="#0a0a0a" stroke-width="0.5" >control</text>
<rect x="165.50" y="239.70" width="12.4" height="8.5" fill="#0a0a0a" stroke="#151515" stroke-width="1.1"/>
<text x="181.20" y="246.40" font-size="8.3" font-weight="bold" text-anchor="start" fill="#0a0a0a" stroke="#0a0a0a" stroke-width="0.5" >WT-CKIε</text>
<rect x="165.50" y="250.90" width="12.4" height="8.5" fill="url(#pKNe)" stroke="#151515" stroke-width="1.1"/>
<text x="181.20" y="257.60" font-size="8.3" font-weight="bold" text-anchor="start" fill="#0a0a0a" stroke="#0a0a0a" stroke-width="0.5" >KN-CKIε</text>
<path d="M356.70,316.18 V313.67 M353.45,313.67 H359.95" stroke="#0a0a0a" stroke-width="1.35" fill="none"/>
<rect x="351.75" y="316.18" width="9.90" height="17.62" fill="#fff" stroke="#0a0a0a" stroke-width="1.25"/>
<path d="M366.60,319.71 V317.19 M363.35,317.19 H369.85" stroke="#0a0a0a" stroke-width="1.35" fill="none"/>
<rect x="361.65" y="319.71" width="9.90" height="14.09" fill="#0a0a0a" stroke="#0a0a0a" stroke-width="1.25"/>
<path d="M376.50,322.22 V319.71 M373.25,319.71 H379.75" stroke="#0a0a0a" stroke-width="1.35" fill="none"/>
<rect x="371.55" y="322.22" width="9.90" height="11.58" fill="url(#pKNe)" stroke="#0a0a0a" stroke-width="1.25"/>
<path d="M400.10,306.62 V303.30 M396.85,303.30 H403.35" stroke="#0a0a0a" stroke-width="1.35" fill="none"/>
<rect x="395.15" y="306.62" width="9.90" height="27.18" fill="#fff" stroke="#0a0a0a" stroke-width="1.25"/>
<path d="M410.00,307.63 V302.09 M406.75,302.09 H413.25" stroke="#0a0a0a" stroke-width="1.35" fill="none"/>
<rect x="405.05" y="307.63" width="9.90" height="26.17" fill="#0a0a0a" stroke="#0a0a0a" stroke-width="1.25"/>
<path d="M419.90,311.15 V306.92 M416.65,306.92 H423.15" stroke="#0a0a0a" stroke-width="1.35" fill="none"/>
<rect x="414.95" y="311.15" width="9.90" height="22.65" fill="url(#pKNe)" stroke="#0a0a0a" stroke-width="1.25"/>
<path d="M442.70,270.88 V267.36 M439.45,267.36 H445.95" stroke="#0a0a0a" stroke-width="1.35" fill="none"/>
<rect x="437.75" y="270.88" width="9.90" height="62.92" fill="#fff" stroke="#0a0a0a" stroke-width="1.25"/>
<path d="M452.60,278.43 V266.86 M449.35,266.86 H455.85" stroke="#0a0a0a" stroke-width="1.35" fill="none"/>
<rect x="447.65" y="278.43" width="9.90" height="55.37" fill="#0a0a0a" stroke="#0a0a0a" stroke-width="1.25"/>
<path d="M462.50,291.52 V285.48 M459.25,285.48 H465.75" stroke="#0a0a0a" stroke-width="1.35" fill="none"/>
<rect x="457.55" y="291.52" width="9.90" height="42.28" fill="url(#pKNe)" stroke="#0a0a0a" stroke-width="1.25"/>
<path d="M485.60,280.95 V277.63 M482.35,277.63 H488.85" stroke="#0a0a0a" stroke-width="1.35" fill="none"/>
<rect x="480.65" y="280.95" width="9.90" height="52.85" fill="#fff" stroke="#0a0a0a" stroke-width="1.25"/>
<path d="M495.50,245.21 V230.62 M492.25,230.62 H498.75" stroke="#0a0a0a" stroke-width="1.35" fill="none"/>
<rect x="490.55" y="245.21" width="9.90" height="88.59" fill="#0a0a0a" stroke="#0a0a0a" stroke-width="1.25"/>
<path d="M505.40,292.02 V286.18 M502.15,286.18 H508.65" stroke="#0a0a0a" stroke-width="1.35" fill="none"/>
<rect x="500.45" y="292.02" width="9.90" height="41.78" fill="url(#pKNe)" stroke="#0a0a0a" stroke-width="1.25"/>
<path d="M345.40,213.00 V333.80 H516.00" stroke="#0a0a0a" stroke-width="1.4" fill="none"/>
<line x1="345.40" y1="333.80" x2="348.30" y2="333.80" stroke="#0a0a0a" stroke-width="1.2"/>
<text x="340.80" y="336.18" font-size="6.6" font-weight="bold" text-anchor="end" fill="#0a0a0a" stroke="#0a0a0a" stroke-width="0.5" textLength="5.00" lengthAdjust="spacingAndGlyphs" >0</text>
<line x1="345.40" y1="303.60" x2="348.30" y2="303.60" stroke="#0a0a0a" stroke-width="1.2"/>
<text x="340.80" y="305.98" font-size="6.6" font-weight="bold" text-anchor="end" fill="#0a0a0a" stroke="#0a0a0a" stroke-width="0.5" textLength="10.00" lengthAdjust="spacingAndGlyphs" >30</text>
<line x1="345.40" y1="273.40" x2="348.30" y2="273.40" stroke="#0a0a0a" stroke-width="1.2"/>
<text x="340.80" y="275.78" font-size="6.6" font-weight="bold" text-anchor="end" fill="#0a0a0a" stroke="#0a0a0a" stroke-width="0.5" textLength="10.00" lengthAdjust="spacingAndGlyphs" >60</text>
<line x1="345.40" y1="243.20" x2="348.30" y2="243.20" stroke="#0a0a0a" stroke-width="1.2"/>
<text x="340.80" y="245.58" font-size="6.6" font-weight="bold" text-anchor="end" fill="#0a0a0a" stroke="#0a0a0a" stroke-width="0.5" textLength="10.00" lengthAdjust="spacingAndGlyphs" >90</text>
<line x1="345.40" y1="213.00" x2="348.30" y2="213.00" stroke="#0a0a0a" stroke-width="1.2"/>
<text x="340.80" y="215.38" font-size="6.6" font-weight="bold" text-anchor="end" fill="#0a0a0a" stroke="#0a0a0a" stroke-width="0.5" textLength="15.00" lengthAdjust="spacingAndGlyphs" >120</text>
<line x1="388.30" y1="333.80" x2="388.30" y2="331.60" stroke="#151515" stroke-width="1"/>
<line x1="431.70" y1="333.80" x2="431.70" y2="331.60" stroke="#151515" stroke-width="1"/>
<line x1="474.30" y1="333.80" x2="474.30" y2="331.60" stroke="#151515" stroke-width="1"/>
<line x1="516.00" y1="333.80" x2="516.00" y2="331.60" stroke="#151515" stroke-width="1"/>
<text x="366.60" y="344.20" font-size="7.7" font-weight="bold" text-anchor="middle" fill="#0a0a0a" stroke="#0a0a0a" stroke-width="0.5" textLength="21.00" lengthAdjust="spacingAndGlyphs" >Day1</text>
<text x="410.00" y="344.20" font-size="7.7" font-weight="bold" text-anchor="middle" fill="#0a0a0a" stroke="#0a0a0a" stroke-width="0.5" textLength="21.00" lengthAdjust="spacingAndGlyphs" >Day2</text>
<text x="452.60" y="344.20" font-size="7.7" font-weight="bold" text-anchor="middle" fill="#0a0a0a" stroke="#0a0a0a" stroke-width="0.5" textLength="21.00" lengthAdjust="spacingAndGlyphs" >Day3</text>
<text x="495.50" y="344.20" font-size="7.7" font-weight="bold" text-anchor="middle" fill="#0a0a0a" stroke="#0a0a0a" stroke-width="0.5" textLength="21.00" lengthAdjust="spacingAndGlyphs" >Day4</text>
<text x="359.50" y="222.80" font-size="11" font-weight="bold" text-anchor="start" fill="#0a0a0a" stroke="#0a0a0a" stroke-width="0.35" >G-CSF</text>
<rect x="359.50" y="227.00" width="12.4" height="8.5" fill="#fff" stroke="#151515" stroke-width="1.1"/>
<text x="375.20" y="233.70" font-size="8.3" font-weight="bold" text-anchor="start" fill="#0a0a0a" stroke="#0a0a0a" stroke-width="0.5" >control</text>
<rect x="359.50" y="238.70" width="12.4" height="8.5" fill="#0a0a0a" stroke="#151515" stroke-width="1.1"/>
<text x="375.20" y="245.40" font-size="8.3" font-weight="bold" text-anchor="start" fill="#0a0a0a" stroke="#0a0a0a" stroke-width="0.5" >WT-CKIε</text>
<rect x="359.50" y="250.40" width="12.4" height="8.5" fill="url(#pKNe)" stroke="#151515" stroke-width="1.1"/>
<text x="375.20" y="257.10" font-size="8.3" font-weight="bold" text-anchor="start" fill="#0a0a0a" stroke="#0a0a0a" stroke-width="0.5" >KN-CKIε</text>
<text x="494.20" y="234.00" font-size="14.5" font-weight="bold" text-anchor="middle" fill="#0a0a0a" stroke="#0a0a0a" stroke-width="0.1" >*</text>
<text x="127.90" y="103.50" font-size="9.4" font-weight="bold" text-anchor="middle" fill="#0a0a0a" stroke="#0a0a0a" stroke-width="0.5" transform="rotate(-90 127.90 103.50)" >Cell nos. ( ×10<tspan font-size="6.2" dy="-3.2">5</tspan><tspan dy="3.2"> / well )</tspan></text>
<text x="127.90" y="273.50" font-size="9.4" font-weight="bold" text-anchor="middle" fill="#0a0a0a" stroke="#0a0a0a" stroke-width="0.5" transform="rotate(-90 127.90 273.50)" >Cell nos. ( ×10<tspan font-size="6.2" dy="-3.2">5</tspan><tspan dy="3.2"> / well )</tspan></text>
<line x1="124.6" y1="184.1" x2="504" y2="184.1" stroke="#555" stroke-width="1" stroke-dasharray="1.5 0.5"/>
<line x1="118" y1="523.3" x2="504" y2="523.3" stroke="#555" stroke-width="1" stroke-dasharray="1.5 0.5"/>
<path d="M352.00,472.01 V467.69 M349.25,467.69 H354.75" stroke="#0a0a0a" stroke-width="1.35" fill="none"/>
<rect x="348.25" y="472.01" width="7.50" height="34.19" fill="#fff" stroke="#0a0a0a" stroke-width="1.25"/>
<path d="M359.50,473.97 V471.22 M356.75,471.22 H362.25" stroke="#0a0a0a" stroke-width="1.35" fill="none"/>
<rect x="355.75" y="473.97" width="7.50" height="32.23" fill="url(#pWTd)" stroke="#0a0a0a" stroke-width="1.25"/>
<path d="M367.00,472.01 V469.45 M364.25,469.45 H369.75" stroke="#0a0a0a" stroke-width="1.35" fill="none"/>
<rect x="363.25" y="472.01" width="7.50" height="34.19" fill="url(#pKNd)" stroke="#0a0a0a" stroke-width="1.25"/>
<path d="M384.25,479.48 V475.55 M381.50,475.55 H387.00" stroke="#0a0a0a" stroke-width="1.35" fill="none"/>
<rect x="380.50" y="479.48" width="7.50" height="26.72" fill="#fff" stroke="#0a0a0a" stroke-width="1.25"/>
<path d="M391.75,483.01 V481.83 M389.00,481.83 H394.50" stroke="#0a0a0a" stroke-width="1.35" fill="none"/>
<rect x="388.00" y="483.01" width="7.50" height="23.19" fill="url(#pWTd)" stroke="#0a0a0a" stroke-width="1.25"/>
<path d="M399.25,484.58 V483.80 M396.50,483.80 H402.00" stroke="#0a0a0a" stroke-width="1.35" fill="none"/>
<rect x="395.50" y="484.58" width="7.50" height="21.62" fill="url(#pKNd)" stroke="#0a0a0a" stroke-width="1.25"/>
<path d="M416.50,477.51 V472.80 M413.75,472.80 H419.25" stroke="#0a0a0a" stroke-width="1.35" fill="none"/>
<rect x="412.75" y="477.51" width="7.50" height="28.69" fill="#fff" stroke="#0a0a0a" stroke-width="1.25"/>
<path d="M424.00,476.33 V472.40 M421.25,472.40 H426.75" stroke="#0a0a0a" stroke-width="1.35" fill="none"/>
<rect x="420.25" y="476.33" width="7.50" height="29.87" fill="url(#pWTd)" stroke="#0a0a0a" stroke-width="1.25"/>
<path d="M431.50,480.26 V479.08 M428.75,479.08 H434.25" stroke="#0a0a0a" stroke-width="1.35" fill="none"/>
<rect x="427.75" y="480.26" width="7.50" height="25.94" fill="url(#pKNd)" stroke="#0a0a0a" stroke-width="1.25"/>
<path d="M448.75,471.62 V465.72 M446.00,465.72 H451.50" stroke="#0a0a0a" stroke-width="1.35" fill="none"/>
<rect x="445.00" y="471.62" width="7.50" height="34.58" fill="#fff" stroke="#0a0a0a" stroke-width="1.25"/>
<path d="M456.25,463.36 V459.04 M453.50,459.04 H459.00" stroke="#0a0a0a" stroke-width="1.35" fill="none"/>
<rect x="452.50" y="463.36" width="7.50" height="42.84" fill="url(#pWTd)" stroke="#0a0a0a" stroke-width="1.25"/>
<path d="M463.75,466.90 V466.11 M461.00,466.11 H466.50" stroke="#0a0a0a" stroke-width="1.35" fill="none"/>
<rect x="460.00" y="466.90" width="7.50" height="39.30" fill="url(#pKNd)" stroke="#0a0a0a" stroke-width="1.25"/>
<path d="M481.00,445.29 V432.71 M478.25,432.71 H483.75" stroke="#0a0a0a" stroke-width="1.35" fill="none"/>
<rect x="477.25" y="445.29" width="7.50" height="60.91" fill="#fff" stroke="#0a0a0a" stroke-width="1.25"/>
<path d="M488.50,448.82 V441.75 M485.75,441.75 H491.25" stroke="#0a0a0a" stroke-width="1.35" fill="none"/>
<rect x="484.75" y="448.82" width="7.50" height="57.38" fill="url(#pWTd)" stroke="#0a0a0a" stroke-width="1.25"/>
<path d="M496.00,445.29 V441.75 M493.25,441.75 H498.75" stroke="#0a0a0a" stroke-width="1.35" fill="none"/>
<rect x="492.25" y="445.29" width="7.50" height="60.91" fill="url(#pKNd)" stroke="#0a0a0a" stroke-width="1.25"/>
<path d="M343.50,388.30 V506.20 H505.00" stroke="#0a0a0a" stroke-width="1.4" fill="none"/>
<line x1="343.50" y1="506.20" x2="346.40" y2="506.20" stroke="#0a0a0a" stroke-width="1.2"/>
<text x="339.40" y="508.18" font-size="5.5" font-weight="bold" text-anchor="end" fill="#0a0a0a" stroke="#0a0a0a" stroke-width="0.5" >0</text>
<line x1="343.50" y1="486.55" x2="346.40" y2="486.55" stroke="#0a0a0a" stroke-width="1.2"/>
<text x="339.40" y="488.53" font-size="5.5" font-weight="bold" text-anchor="end" fill="#0a0a0a" stroke="#0a0a0a" stroke-width="0.5" >50</text>
<line x1="343.50" y1="466.90" x2="346.40" y2="466.90" stroke="#0a0a0a" stroke-width="1.2"/>
<text x="339.40" y="468.88" font-size="5.5" font-weight="bold" text-anchor="end" fill="#0a0a0a" stroke="#0a0a0a" stroke-width="0.5" >100</text>
<line x1="343.50" y1="447.25" x2="346.40" y2="447.25" stroke="#0a0a0a" stroke-width="1.2"/>
<text x="339.40" y="449.23" font-size="5.5" font-weight="bold" text-anchor="end" fill="#0a0a0a" stroke="#0a0a0a" stroke-width="0.5" >150</text>
<line x1="343.50" y1="427.60" x2="346.40" y2="427.60" stroke="#0a0a0a" stroke-width="1.2"/>
<text x="339.40" y="429.58" font-size="5.5" font-weight="bold" text-anchor="end" fill="#0a0a0a" stroke="#0a0a0a" stroke-width="0.5" >200</text>
<line x1="343.50" y1="407.95" x2="346.40" y2="407.95" stroke="#0a0a0a" stroke-width="1.2"/>
<text x="339.40" y="409.93" font-size="5.5" font-weight="bold" text-anchor="end" fill="#0a0a0a" stroke="#0a0a0a" stroke-width="0.5" >250</text>
<line x1="343.50" y1="388.30" x2="346.40" y2="388.30" stroke="#0a0a0a" stroke-width="1.2"/>
<text x="339.40" y="390.28" font-size="5.5" font-weight="bold" text-anchor="end" fill="#0a0a0a" stroke="#0a0a0a" stroke-width="0.5" >300</text>
<line x1="375.62" y1="506.20" x2="375.62" y2="504.00" stroke="#151515" stroke-width="1"/>
<line x1="407.88" y1="506.20" x2="407.88" y2="504.00" stroke="#151515" stroke-width="1"/>
<line x1="440.12" y1="506.20" x2="440.12" y2="504.00" stroke="#151515" stroke-width="1"/>
<line x1="472.38" y1="506.20" x2="472.38" y2="504.00" stroke="#151515" stroke-width="1"/>
<line x1="504.62" y1="506.20" x2="504.62" y2="504.00" stroke="#151515" stroke-width="1"/>
<text x="359.50" y="514.90" font-size="5.9" font-weight="bold" text-anchor="middle" fill="#0a0a0a" stroke="#0a0a0a" stroke-width="0.5" textLength="14.40" lengthAdjust="spacingAndGlyphs" >Day0</text>
<text x="391.75" y="514.90" font-size="5.9" font-weight="bold" text-anchor="middle" fill="#0a0a0a" stroke="#0a0a0a" stroke-width="0.5" textLength="14.40" lengthAdjust="spacingAndGlyphs" >Day1</text>
<text x="424.00" y="514.90" font-size="5.9" font-weight="bold" text-anchor="middle" fill="#0a0a0a" stroke="#0a0a0a" stroke-width="0.5" textLength="14.40" lengthAdjust="spacingAndGlyphs" >Day2</text>
<text x="456.25" y="514.90" font-size="5.9" font-weight="bold" text-anchor="middle" fill="#0a0a0a" stroke="#0a0a0a" stroke-width="0.5" textLength="14.40" lengthAdjust="spacingAndGlyphs" >Day3</text>
<text x="488.50" y="514.90" font-size="5.9" font-weight="bold" text-anchor="middle" fill="#0a0a0a" stroke="#0a0a0a" stroke-width="0.5" textLength="14.40" lengthAdjust="spacingAndGlyphs" >Day4</text>
<text x="357.30" y="398.20" font-size="11" font-weight="bold" text-anchor="start" fill="#0a0a0a" stroke="#0a0a0a" stroke-width="0.35" >G-CSF</text>
<rect x="357.60" y="404.20" width="12" height="8.5" fill="#fff" stroke="#151515" stroke-width="1.1"/>
<text x="372.90" y="410.90" font-size="8.3" font-weight="bold" text-anchor="start" fill="#0a0a0a" stroke="#0a0a0a" stroke-width="0.5" >control</text>
<rect x="357.60" y="415.50" width="12" height="8.5" fill="url(#pWTd)" stroke="#151515" stroke-width="1.1"/>
<text x="372.90" y="422.20" font-size="8.3" font-weight="bold" text-anchor="start" fill="#0a0a0a" stroke="#0a0a0a" stroke-width="0.5" >WT-CKIδ</text>
<rect x="357.60" y="426.80" width="12" height="8.5" fill="url(#pKNd)" stroke="#151515" stroke-width="1.1"/>
<text x="372.90" y="433.50" font-size="8.3" font-weight="bold" text-anchor="start" fill="#0a0a0a" stroke="#0a0a0a" stroke-width="0.5" >KN-CKIδ</text>
<path d="M353.80,624.51 V621.36 M351.05,621.36 H356.55" stroke="#0a0a0a" stroke-width="1.35" fill="none"/>
<rect x="350.20" y="624.51" width="7.20" height="34.49" fill="#fff" stroke="#0a0a0a" stroke-width="1.25"/>
<path d="M361.00,625.89 V619.58 M358.25,619.58 H363.75" stroke="#0a0a0a" stroke-width="1.35" fill="none"/>
<rect x="357.40" y="625.89" width="7.20" height="33.11" fill="#0a0a0a" stroke="#0a0a0a" stroke-width="1.25"/>
<path d="M368.20,619.98 V617.42 M365.45,617.42 H370.95" stroke="#0a0a0a" stroke-width="1.35" fill="none"/>
<rect x="364.60" y="619.98" width="7.20" height="39.02" fill="url(#pKNe)" stroke="#0a0a0a" stroke-width="1.25"/>
<path d="M385.70,632.00 V629.44 M382.95,629.44 H388.45" stroke="#0a0a0a" stroke-width="1.35" fill="none"/>
<rect x="382.10" y="632.00" width="7.20" height="27.00" fill="#fff" stroke="#0a0a0a" stroke-width="1.25"/>
<path d="M392.90,630.03 V624.51 M390.15,624.51 H395.65" stroke="#0a0a0a" stroke-width="1.35" fill="none"/>
<rect x="389.30" y="630.03" width="7.20" height="28.97" fill="#0a0a0a" stroke="#0a0a0a" stroke-width="1.25"/>
<path d="M400.10,625.10 V619.58 M397.35,619.58 H402.85" stroke="#0a0a0a" stroke-width="1.35" fill="none"/>
<rect x="396.50" y="625.10" width="7.20" height="33.90" fill="url(#pKNe)" stroke="#0a0a0a" stroke-width="1.25"/>
<path d="M417.60,630.03 V623.72 M414.85,623.72 H420.35" stroke="#0a0a0a" stroke-width="1.35" fill="none"/>
<rect x="414.00" y="630.03" width="7.20" height="28.97" fill="#fff" stroke="#0a0a0a" stroke-width="1.25"/>
<path d="M424.80,629.44 V623.13 M422.05,623.13 H427.55" stroke="#0a0a0a" stroke-width="1.35" fill="none"/>
<rect x="421.20" y="629.44" width="7.20" height="29.56" fill="#0a0a0a" stroke="#0a0a0a" stroke-width="1.25"/>
<path d="M432.00,616.43 V606.97 M429.25,606.97 H434.75" stroke="#0a0a0a" stroke-width="1.35" fill="none"/>
<rect x="428.40" y="616.43" width="7.20" height="42.57" fill="url(#pKNe)" stroke="#0a0a0a" stroke-width="1.25"/>
<path d="M449.50,621.16 V613.87 M446.75,613.87 H452.25" stroke="#0a0a0a" stroke-width="1.35" fill="none"/>
<rect x="445.90" y="621.16" width="7.20" height="37.84" fill="#fff" stroke="#0a0a0a" stroke-width="1.25"/>
<path d="M456.70,625.50 V621.75 M453.95,621.75 H459.45" stroke="#0a0a0a" stroke-width="1.35" fill="none"/>
<rect x="453.10" y="625.50" width="7.20" height="33.50" fill="#0a0a0a" stroke="#0a0a0a" stroke-width="1.25"/>
<path d="M463.90,592.39 V575.44 M461.15,575.44 H466.65" stroke="#0a0a0a" stroke-width="1.35" fill="none"/>
<rect x="460.30" y="592.39" width="7.20" height="66.61" fill="url(#pKNe)" stroke="#0a0a0a" stroke-width="1.25"/>
<path d="M481.40,587.26 V573.86 M478.65,573.86 H484.15" stroke="#0a0a0a" stroke-width="1.35" fill="none"/>
<rect x="477.80" y="587.26" width="7.20" height="71.74" fill="#fff" stroke="#0a0a0a" stroke-width="1.25"/>
<path d="M488.60,619.19 V612.69 M485.85,612.69 H491.35" stroke="#0a0a0a" stroke-width="1.35" fill="none"/>
<rect x="485.00" y="619.19" width="7.20" height="39.81" fill="#0a0a0a" stroke="#0a0a0a" stroke-width="1.25"/>
<path d="M495.80,566.37 V551.79 M493.05,551.79 H498.55" stroke="#0a0a0a" stroke-width="1.35" fill="none"/>
<rect x="492.20" y="566.37" width="7.20" height="92.63" fill="url(#pKNe)" stroke="#0a0a0a" stroke-width="1.25"/>
<path d="M345.50,540.75 V659.00 H505.00" stroke="#0a0a0a" stroke-width="1.4" fill="none"/>
<line x1="345.50" y1="659.00" x2="348.40" y2="659.00" stroke="#0a0a0a" stroke-width="1.2"/>
<text x="339.00" y="660.98" font-size="5.5" font-weight="bold" text-anchor="end" fill="#0a0a0a" stroke="#0a0a0a" stroke-width="0.5" >0</text>
<line x1="345.50" y1="639.29" x2="348.40" y2="639.29" stroke="#0a0a0a" stroke-width="1.2"/>
<text x="339.00" y="641.27" font-size="5.5" font-weight="bold" text-anchor="end" fill="#0a0a0a" stroke="#0a0a0a" stroke-width="0.5" >50</text>
<line x1="345.50" y1="619.58" x2="348.40" y2="619.58" stroke="#0a0a0a" stroke-width="1.2"/>
<text x="339.00" y="621.56" font-size="5.5" font-weight="bold" text-anchor="end" fill="#0a0a0a" stroke="#0a0a0a" stroke-width="0.5" >100</text>
<line x1="345.50" y1="599.88" x2="348.40" y2="599.88" stroke="#0a0a0a" stroke-width="1.2"/>
<text x="339.00" y="601.86" font-size="5.5" font-weight="bold" text-anchor="end" fill="#0a0a0a" stroke="#0a0a0a" stroke-width="0.5" >150</text>
<line x1="345.50" y1="580.17" x2="348.40" y2="580.17" stroke="#0a0a0a" stroke-width="1.2"/>
<text x="339.00" y="582.15" font-size="5.5" font-weight="bold" text-anchor="end" fill="#0a0a0a" stroke="#0a0a0a" stroke-width="0.5" >200</text>
<line x1="345.50" y1="560.46" x2="348.40" y2="560.46" stroke="#0a0a0a" stroke-width="1.2"/>
<text x="339.00" y="562.44" font-size="5.5" font-weight="bold" text-anchor="end" fill="#0a0a0a" stroke="#0a0a0a" stroke-width="0.5" >250</text>
<line x1="345.50" y1="540.75" x2="348.40" y2="540.75" stroke="#0a0a0a" stroke-width="1.2"/>
<text x="339.00" y="542.73" font-size="5.5" font-weight="bold" text-anchor="end" fill="#0a0a0a" stroke="#0a0a0a" stroke-width="0.5" >300</text>
<line x1="376.95" y1="659.00" x2="376.95" y2="656.80" stroke="#151515" stroke-width="1"/>
<line x1="408.85" y1="659.00" x2="408.85" y2="656.80" stroke="#151515" stroke-width="1"/>
<line x1="440.75" y1="659.00" x2="440.75" y2="656.80" stroke="#151515" stroke-width="1"/>
<line x1="472.65" y1="659.00" x2="472.65" y2="656.80" stroke="#151515" stroke-width="1"/>
<line x1="504.55" y1="659.00" x2="504.55" y2="656.80" stroke="#151515" stroke-width="1"/>
<text x="361.00" y="667.50" font-size="5.9" font-weight="bold" text-anchor="middle" fill="#0a0a0a" stroke="#0a0a0a" stroke-width="0.5" textLength="14.60" lengthAdjust="spacingAndGlyphs" >Day0</text>
<text x="392.90" y="667.50" font-size="5.9" font-weight="bold" text-anchor="middle" fill="#0a0a0a" stroke="#0a0a0a" stroke-width="0.5" textLength="14.60" lengthAdjust="spacingAndGlyphs" >Day1</text>
<text x="424.80" y="667.50" font-size="5.9" font-weight="bold" text-anchor="middle" fill="#0a0a0a" stroke="#0a0a0a" stroke-width="0.5" textLength="14.60" lengthAdjust="spacingAndGlyphs" >Day2</text>
<text x="456.70" y="667.50" font-size="5.9" font-weight="bold" text-anchor="middle" fill="#0a0a0a" stroke="#0a0a0a" stroke-width="0.5" textLength="14.60" lengthAdjust="spacingAndGlyphs" >Day3</text>
<text x="488.60" y="667.50" font-size="5.9" font-weight="bold" text-anchor="middle" fill="#0a0a0a" stroke="#0a0a0a" stroke-width="0.5" textLength="14.60" lengthAdjust="spacingAndGlyphs" >Day4</text>
<text x="357.30" y="550.20" font-size="11" font-weight="bold" text-anchor="start" fill="#0a0a0a" stroke="#0a0a0a" stroke-width="0.35" >G-CSF</text>
<rect x="357.80" y="555.30" width="12" height="8.5" fill="#fff" stroke="#151515" stroke-width="1.1"/>
<text x="373.10" y="562.00" font-size="8.3" font-weight="bold" text-anchor="start" fill="#0a0a0a" stroke="#0a0a0a" stroke-width="0.5" >control</text>
<rect x="357.80" y="566.80" width="12" height="8.5" fill="#0a0a0a" stroke="#151515" stroke-width="1.1"/>
<text x="373.10" y="573.50" font-size="8.3" font-weight="bold" text-anchor="start" fill="#0a0a0a" stroke="#0a0a0a" stroke-width="0.5" >WT-CKIε</text>
<rect x="357.80" y="578.30" width="12" height="8.5" fill="url(#pKNe)" stroke="#151515" stroke-width="1.1"/>
<text x="373.10" y="585.00" font-size="8.3" font-weight="bold" text-anchor="start" fill="#0a0a0a" stroke="#0a0a0a" stroke-width="0.5" >KN-CKIε</text>
<text x="462.80" y="579.00" font-size="14.5" font-weight="bold" text-anchor="middle" fill="#0a0a0a" stroke="#0a0a0a" stroke-width="0.1" >*</text>
<text x="488.20" y="615.00" font-size="14.5" font-weight="bold" text-anchor="middle" fill="#0a0a0a" stroke="#0a0a0a" stroke-width="0.1" >*</text>
<text x="494.20" y="555.00" font-size="14.5" font-weight="bold" text-anchor="middle" fill="#0a0a0a" stroke="#0a0a0a" stroke-width="0.1" >*</text>
<text x="326.20" y="440.20" font-size="8.8" font-weight="bold" text-anchor="middle" fill="#0a0a0a" stroke="#0a0a0a" stroke-width="0.5" transform="rotate(-90 326.20 440.20)" >Mac-1 expression</text>
<text x="326.10" y="595.60" font-size="9.3" font-weight="bold" text-anchor="middle" fill="#0a0a0a" stroke="#0a0a0a" stroke-width="0.5" transform="rotate(-90 326.10 595.60)" >Mac-1 expression</text>
<text x="31.35" y="474.40" font-size="6.7" font-weight="bold" text-anchor="middle" fill="#0a0a0a" stroke="#0a0a0a" stroke-width="0.45" textLength="15.20" lengthAdjust="spacingAndGlyphs" >Day0</text>
<text x="46.25" y="479.00" font-size="6.7" font-weight="bold" text-anchor="middle" fill="#0a0a0a" stroke="#0a0a0a" stroke-width="0.45" textLength="15.20" lengthAdjust="spacingAndGlyphs" >Day1</text>
<text x="61.15" y="483.60" font-size="6.7" font-weight="bold" text-anchor="middle" fill="#0a0a0a" stroke="#0a0a0a" stroke-width="0.45" textLength="15.20" lengthAdjust="spacingAndGlyphs" >Day2</text>
<text x="76.05" y="488.20" font-size="6.7" font-weight="bold" text-anchor="middle" fill="#0a0a0a" stroke="#0a0a0a" stroke-width="0.45" textLength="15.20" lengthAdjust="spacingAndGlyphs" >Day3</text>
<text x="90.95" y="492.80" font-size="6.7" font-weight="bold" text-anchor="middle" fill="#0a0a0a" stroke="#0a0a0a" stroke-width="0.45" textLength="15.20" lengthAdjust="spacingAndGlyphs" >Day4</text>
<text x="8.85" y="501.80" font-size="7.7" font-weight="bold" text-anchor="middle" fill="#0a0a0a" stroke="#0a0a0a" stroke-width="0.5" transform="rotate(-90 8.85 501.80)" >Cell nos.</text>
<text x="30.00" y="559.80" font-size="5.4" font-weight="bold" text-anchor="middle" fill="#0a0a0a" stroke="#0a0a0a" stroke-width="0.5" >10<tspan font-size="3.4" dy="-2">2</tspan></text>
<text x="52.90" y="568.80" font-size="5.4" font-weight="bold" text-anchor="middle" fill="#0a0a0a" stroke="#0a0a0a" stroke-width="0.5" >10<tspan font-size="3.4" dy="-2">4</tspan></text>
<text x="54.50" y="586.60" font-size="12.6" font-weight="bold" text-anchor="middle" fill="#0a0a0a" stroke="#0a0a0a" stroke-width="0.35" >control</text>
<text x="134.00" y="405.60" font-size="6.7" font-weight="bold" text-anchor="middle" fill="#0a0a0a" stroke="#0a0a0a" stroke-width="0.45" textLength="15.20" lengthAdjust="spacingAndGlyphs" >Day0</text>
<text x="148.90" y="410.20" font-size="6.7" font-weight="bold" text-anchor="middle" fill="#0a0a0a" stroke="#0a0a0a" stroke-width="0.45" textLength="15.20" lengthAdjust="spacingAndGlyphs" >Day1</text>
<text x="163.80" y="414.80" font-size="6.7" font-weight="bold" text-anchor="middle" fill="#0a0a0a" stroke="#0a0a0a" stroke-width="0.45" textLength="15.20" lengthAdjust="spacingAndGlyphs" >Day2</text>
<text x="178.70" y="419.40" font-size="6.7" font-weight="bold" text-anchor="middle" fill="#0a0a0a" stroke="#0a0a0a" stroke-width="0.45" textLength="15.20" lengthAdjust="spacingAndGlyphs" >Day3</text>
<text x="193.60" y="424.00" font-size="6.7" font-weight="bold" text-anchor="middle" fill="#0a0a0a" stroke="#0a0a0a" stroke-width="0.45" textLength="15.20" lengthAdjust="spacingAndGlyphs" >Day4</text>
<text x="112.90" y="441.90" font-size="7.7" font-weight="bold" text-anchor="middle" fill="#0a0a0a" stroke="#0a0a0a" stroke-width="0.5" transform="rotate(-90 112.90 441.90)" >Cell nos.</text>
<text x="130.80" y="494.80" font-size="5.4" font-weight="bold" text-anchor="middle" fill="#0a0a0a" stroke="#0a0a0a" stroke-width="0.5" >10<tspan font-size="3.4" dy="-2">2</tspan></text>
<text x="155.50" y="503.10" font-size="5.4" font-weight="bold" text-anchor="middle" fill="#0a0a0a" stroke="#0a0a0a" stroke-width="0.5" >10<tspan font-size="3.4" dy="-2">4</tspan></text>
<text x="161.00" y="515.80" font-size="12.3" font-weight="bold" text-anchor="middle" fill="#0a0a0a" stroke="#0a0a0a" stroke-width="0.35" textLength="51.20" lengthAdjust="spacingAndGlyphs" >WT-CKIδ</text>
<text x="236.00" y="408.90" font-size="6.7" font-weight="bold" text-anchor="middle" fill="#0a0a0a" stroke="#0a0a0a" stroke-width="0.45" textLength="15.20" lengthAdjust="spacingAndGlyphs" >Day0</text>
<text x="250.90" y="413.50" font-size="6.7" font-weight="bold" text-anchor="middle" fill="#0a0a0a" stroke="#0a0a0a" stroke-width="0.45" textLength="15.20" lengthAdjust="spacingAndGlyphs" >Day1</text>
<text x="265.80" y="418.10" font-size="6.7" font-weight="bold" text-anchor="middle" fill="#0a0a0a" stroke="#0a0a0a" stroke-width="0.45" textLength="15.20" lengthAdjust="spacingAndGlyphs" >Day2</text>
<text x="280.70" y="422.70" font-size="6.7" font-weight="bold" text-anchor="middle" fill="#0a0a0a" stroke="#0a0a0a" stroke-width="0.45" textLength="15.20" lengthAdjust="spacingAndGlyphs" >Day3</text>
<text x="295.60" y="427.30" font-size="6.7" font-weight="bold" text-anchor="middle" fill="#0a0a0a" stroke="#0a0a0a" stroke-width="0.45" textLength="15.20" lengthAdjust="spacingAndGlyphs" >Day4</text>
<text x="214.20" y="440.50" font-size="7.7" font-weight="bold" text-anchor="middle" fill="#0a0a0a" stroke="#0a0a0a" stroke-width="0.5" transform="rotate(-90 214.20 440.50)" >Cell nos.</text>
<text x="233.30" y="495.00" font-size="5.4" font-weight="bold" text-anchor="middle" fill="#0a0a0a" stroke="#0a0a0a" stroke-width="0.5" >10<tspan font-size="3.4" dy="-2">2</tspan></text>
<text x="258.00" y="503.80" font-size="5.4" font-weight="bold" text-anchor="middle" fill="#0a0a0a" stroke="#0a0a0a" stroke-width="0.5" >10<tspan font-size="3.4" dy="-2">4</tspan></text>
<text x="267.40" y="515.80" font-size="12.3" font-weight="bold" text-anchor="middle" fill="#0a0a0a" stroke="#0a0a0a" stroke-width="0.35" textLength="50.80" lengthAdjust="spacingAndGlyphs" >KN-CKIδ</text>
<text x="136.00" y="561.50" font-size="6.7" font-weight="bold" text-anchor="middle" fill="#0a0a0a" stroke="#0a0a0a" stroke-width="0.45" textLength="15.20" lengthAdjust="spacingAndGlyphs" >Day0</text>
<text x="150.90" y="566.10" font-size="6.7" font-weight="bold" text-anchor="middle" fill="#0a0a0a" stroke="#0a0a0a" stroke-width="0.45" textLength="15.20" lengthAdjust="spacingAndGlyphs" >Day1</text>
<text x="165.80" y="570.70" font-size="6.7" font-weight="bold" text-anchor="middle" fill="#0a0a0a" stroke="#0a0a0a" stroke-width="0.45" textLength="15.20" lengthAdjust="spacingAndGlyphs" >Day2</text>
<text x="180.70" y="575.30" font-size="6.7" font-weight="bold" text-anchor="middle" fill="#0a0a0a" stroke="#0a0a0a" stroke-width="0.45" textLength="15.20" lengthAdjust="spacingAndGlyphs" >Day3</text>
<text x="195.60" y="579.90" font-size="6.7" font-weight="bold" text-anchor="middle" fill="#0a0a0a" stroke="#0a0a0a" stroke-width="0.45" textLength="15.20" lengthAdjust="spacingAndGlyphs" >Day4</text>
<text x="114.60" y="592.00" font-size="7.7" font-weight="bold" text-anchor="middle" fill="#0a0a0a" stroke="#0a0a0a" stroke-width="0.5" transform="rotate(-90 114.60 592.00)" >Cell nos.</text>
<text x="137.00" y="645.60" font-size="5.4" font-weight="bold" text-anchor="middle" fill="#0a0a0a" stroke="#0a0a0a" stroke-width="0.5" >10<tspan font-size="3.4" dy="-2">2</tspan></text>
<text x="159.90" y="653.00" font-size="5.4" font-weight="bold" text-anchor="middle" fill="#0a0a0a" stroke="#0a0a0a" stroke-width="0.5" >10<tspan font-size="3.4" dy="-2">4</tspan></text>
<text x="165.70" y="666.30" font-size="12.3" font-weight="bold" text-anchor="middle" fill="#0a0a0a" stroke="#0a0a0a" stroke-width="0.35" textLength="50.20" lengthAdjust="spacingAndGlyphs" >WT-CKIε</text>
<text x="239.10" y="560.90" font-size="6.7" font-weight="bold" text-anchor="middle" fill="#0a0a0a" stroke="#0a0a0a" stroke-width="0.45" textLength="15.20" lengthAdjust="spacingAndGlyphs" >Day0</text>
<text x="254.00" y="565.50" font-size="6.7" font-weight="bold" text-anchor="middle" fill="#0a0a0a" stroke="#0a0a0a" stroke-width="0.45" textLength="15.20" lengthAdjust="spacingAndGlyphs" >Day1</text>
<text x="268.90" y="570.10" font-size="6.7" font-weight="bold" text-anchor="middle" fill="#0a0a0a" stroke="#0a0a0a" stroke-width="0.45" textLength="15.20" lengthAdjust="spacingAndGlyphs" >Day2</text>
<text x="283.80" y="574.70" font-size="6.7" font-weight="bold" text-anchor="middle" fill="#0a0a0a" stroke="#0a0a0a" stroke-width="0.45" textLength="15.20" lengthAdjust="spacingAndGlyphs" >Day3</text>
<text x="298.70" y="579.30" font-size="6.7" font-weight="bold" text-anchor="middle" fill="#0a0a0a" stroke="#0a0a0a" stroke-width="0.45" textLength="15.20" lengthAdjust="spacingAndGlyphs" >Day4</text>
<text x="213.60" y="591.70" font-size="7.7" font-weight="bold" text-anchor="middle" fill="#0a0a0a" stroke="#0a0a0a" stroke-width="0.5" transform="rotate(-90 213.60 591.70)" >Cell nos.</text>
<text x="237.50" y="644.80" font-size="5.4" font-weight="bold" text-anchor="middle" fill="#0a0a0a" stroke="#0a0a0a" stroke-width="0.5" >10<tspan font-size="3.4" dy="-2">2</tspan></text>
<text x="261.50" y="654.50" font-size="5.4" font-weight="bold" text-anchor="middle" fill="#0a0a0a" stroke="#0a0a0a" stroke-width="0.5" >10<tspan font-size="3.4" dy="-2">4</tspan></text>
<text x="269.50" y="665.80" font-size="12.3" font-weight="bold" text-anchor="middle" fill="#0a0a0a" stroke="#0a0a0a" stroke-width="0.35" textLength="50.20" lengthAdjust="spacingAndGlyphs" >KN-CKIε</text>
<line x1="11.35" y1="541.70" x2="11.35" y2="458.40" stroke="#333" stroke-width="0.9"/>
<polygon points="11.35,541.70 57.85,562.90 108.50,541.20 62.00,520.00" fill="#fff"/>
<line x1="11.35" y1="541.70" x2="57.85" y2="562.90" stroke="#d8305a" stroke-width="1.0" opacity="1"/>
<line x1="24.01" y1="536.28" x2="70.51" y2="557.48" stroke="#e060c0" stroke-width="0.7" opacity="0.55"/>
<line x1="36.67" y1="530.85" x2="83.17" y2="552.05" stroke="#e07040" stroke-width="0.7" opacity="0.55"/>
<line x1="49.34" y1="525.43" x2="95.84" y2="546.63" stroke="#40c020" stroke-width="0.8" opacity="0.8"/>
<line x1="62.00" y1="520.00" x2="108.50" y2="541.20" stroke="#1a1a2a" stroke-width="0.9" opacity="1"/>
<line x1="11.35" y1="541.70" x2="62.00" y2="520.00" stroke="#1a1a1a" stroke-width="0.9"/>
<line x1="17.16" y1="544.35" x2="67.81" y2="522.65" stroke="#1a1a1a" stroke-width="0.9"/>
<line x1="22.98" y1="547.00" x2="73.62" y2="525.30" stroke="#1a1a1a" stroke-width="0.9"/>
<line x1="28.79" y1="549.65" x2="79.44" y2="527.95" stroke="#1a1a1a" stroke-width="0.9"/>
<line x1="34.60" y1="552.30" x2="85.25" y2="530.60" stroke="#1a1a1a" stroke-width="0.9"/>
<line x1="40.41" y1="554.95" x2="91.06" y2="533.25" stroke="#1a1a1a" stroke-width="0.9"/>
<line x1="46.23" y1="557.60" x2="96.88" y2="535.90" stroke="#1a1a1a" stroke-width="0.9"/>
<line x1="52.04" y1="560.25" x2="102.69" y2="538.55" stroke="#1a1a1a" stroke-width="0.9"/>
<line x1="57.85" y1="562.90" x2="108.50" y2="541.20" stroke="#1a1a1a" stroke-width="0.9"/>
<polygon points="69.97,523.63 69.97,522.89 70.30,522.27 70.64,521.48 70.97,520.83 71.30,520.30 71.63,519.46 71.96,518.65 72.30,518.05 72.63,516.84 72.96,515.37 73.29,514.71 73.62,514.02 73.96,512.71 74.29,512.10 74.62,511.66 74.95,509.81 75.29,508.14 75.62,507.87 75.95,507.02 76.28,505.86 76.61,506.32 76.95,506.32 77.28,505.53 77.61,505.33 77.94,505.98 78.28,505.47 78.61,505.44 78.94,507.05 79.27,507.41 79.60,506.26 79.94,506.29 80.27,506.37 80.60,505.07 80.93,505.09 81.26,506.61 81.60,506.49 81.93,505.76 82.26,506.49 82.59,507.71 82.92,507.95 83.26,509.57 83.59,511.63 83.92,512.26 84.25,513.10 84.59,514.64 84.92,514.94 85.25,514.91 85.58,516.25 85.91,517.52 86.25,517.91 86.58,518.87 86.91,519.82 87.24,518.87 87.58,518.05 87.91,518.73 88.24,518.97 88.57,518.27 88.90,518.30 89.24,518.08 89.57,516.36 89.90,515.08 90.23,514.76 90.56,513.53 90.90,512.56 91.23,513.33 91.56,513.30 91.89,512.23 92.22,513.40 92.56,514.85 92.89,515.01 93.22,516.20 93.55,518.60 93.89,519.81 94.22,520.47 94.55,522.01 94.88,523.17 95.21,523.77 95.55,525.26 95.88,527.08 96.21,528.16 96.54,529.22 96.88,530.53 97.21,531.43 97.54,532.22 97.87,533.34 98.20,534.40 98.54,535.27 98.87,536.17 98.87,536.81" fill="#2449dc" stroke="#2449dc" stroke-width="0.5" stroke-linejoin="round"/>
<line x1="86.41" y1="531.13" x2="86.41" y2="519.64" stroke="#111" stroke-width="1.1"/>
<polygon points="56.64,528.76 56.64,527.58 56.98,526.51 57.31,525.13 57.64,523.77 57.97,522.42 58.31,520.44 58.64,518.64 58.97,517.68 59.30,516.04 59.63,513.65 59.97,512.14 60.30,510.18 60.63,506.84 60.96,504.83 61.29,503.76 61.63,501.01 61.96,498.26 62.29,499.10 62.62,498.12 62.96,495.77 63.29,496.54 63.62,498.09 63.95,497.59 64.28,498.49 64.62,500.52 64.95,499.59 65.28,498.33 65.61,500.03 65.94,501.96 66.28,503.61 66.61,507.23 66.94,510.66 67.27,511.73 67.61,512.96 67.94,514.82 68.27,515.75 68.60,516.66 68.93,518.95 69.27,520.65 69.60,521.11 69.93,522.16 70.26,523.51 70.59,524.09 70.93,525.04 71.26,526.70 71.59,527.74 71.92,528.30 72.26,529.23 72.59,529.99 72.92,530.33 73.25,531.03 73.58,531.96 73.92,532.50 74.25,532.59 74.58,532.68 74.91,532.50 75.24,532.03 75.58,531.97 75.91,532.07 76.24,531.81 76.57,531.72 76.91,531.90 77.24,531.53 77.57,531.00 77.90,531.08 78.23,531.16 78.57,530.93 78.90,531.22 79.23,531.64 79.56,531.33 79.89,531.11 80.23,531.48 80.56,531.55 80.89,531.53 81.22,532.19 81.56,532.70 81.89,532.52 82.22,532.63 82.55,533.04 82.88,532.99 83.22,533.14 83.55,533.93 83.88,534.38 84.21,534.38 84.54,534.76 84.88,535.12 85.21,535.05 85.54,535.37 85.87,536.12 86.21,536.47 86.54,536.69 86.87,537.22 87.20,537.50 87.53,537.50 87.87,537.92 88.20,538.52 88.53,538.81 88.86,539.17 89.19,539.72 89.53,539.94 89.86,540.04 90.19,540.47 90.52,540.90 90.86,541.15 91.19,541.58 91.52,542.04 91.85,542.23 92.18,542.42 92.52,542.80 92.85,543.09 93.18,543.33 93.51,543.72 93.84,544.08 94.18,544.27 94.51,544.50 94.84,544.80 95.17,545.01 95.51,545.24 95.51,546.47" fill="#5fef25" stroke="#5fef25" stroke-width="0.5" stroke-linejoin="round"/>
<line x1="73.75" y1="536.56" x2="73.75" y2="532.59" stroke="#111" stroke-width="1.1"/>
<polygon points="45.31,534.79 45.31,533.69 45.64,532.54 45.97,530.77 46.31,528.74 46.64,527.19 46.97,525.67 47.30,523.09 47.64,520.61 47.97,518.59 48.30,515.28 48.63,512.05 48.96,510.97 49.30,509.15 49.63,505.48 49.96,503.34 50.29,501.27 50.62,496.49 50.96,493.67 51.29,494.38 51.62,492.97 51.95,490.60 52.29,493.24 52.62,494.27 52.95,492.52 53.28,494.26 53.61,498.01 53.95,499.25 54.28,501.29 54.61,505.19 54.94,506.35 55.28,506.23 55.61,508.87 55.94,511.69 56.27,513.08 56.60,515.92 56.94,519.29 57.27,520.48 57.60,521.52 57.93,523.89 58.26,525.66 58.60,527.04 58.93,529.43 59.26,531.59 59.59,532.72 59.92,534.03 60.26,535.61 60.59,536.77 60.92,537.96 61.25,539.40 61.59,539.84 61.92,539.83 62.25,539.89 62.58,539.93 62.91,539.73 63.25,539.62 63.58,539.78 63.91,539.80 64.24,539.70 64.58,539.84 64.91,539.90 65.24,539.72 65.57,539.85 65.90,540.24 66.24,540.39 66.57,540.58 66.90,541.00 67.23,541.16 67.56,541.15 67.90,541.44 68.23,541.81 68.56,542.00 68.89,542.36 69.22,542.83 69.56,543.03 69.89,543.18 70.22,543.54 70.55,543.85 70.89,544.08 71.22,544.49 71.55,544.90 71.88,545.12 72.21,545.36 72.55,545.69 72.88,545.93 73.21,546.17 73.54,546.52 73.54,547.66" fill="#f4844c" stroke="#f4844c" stroke-width="0.5" stroke-linejoin="round"/>
<line x1="61.09" y1="541.98" x2="61.09" y2="539.10" stroke="#111" stroke-width="1.1"/>
<polygon points="35.97,541.73 35.97,540.44 36.30,539.06 36.63,537.00 36.97,535.17 37.30,532.59 37.63,529.75 37.96,527.41 38.29,524.06 38.63,520.14 38.96,518.20 39.29,516.25 39.62,512.06 39.96,508.81 40.29,506.37 40.62,500.89 40.95,496.15 41.28,495.82 41.62,494.19 41.95,490.38 42.28,489.91 42.61,488.79 42.94,485.43 43.28,486.15 43.61,490.90 43.94,492.79 44.27,494.55 44.61,499.52 44.94,501.80 45.27,501.18 45.60,503.87 45.93,507.89 46.27,509.72 46.60,512.94 46.93,517.71 47.26,519.79 47.59,520.84 47.93,523.81 48.26,526.47 48.59,528.18 48.92,531.16 49.26,534.35 49.59,536.05 49.92,537.70 50.25,539.88 50.58,541.59 50.92,543.20 51.25,545.19 51.58,546.59 51.91,546.79 52.24,547.01 52.58,547.27 52.91,547.34 53.24,547.42 53.57,547.70 53.91,547.91 54.24,548.02 54.57,548.24 54.90,548.46 55.23,548.54 55.57,548.72 55.90,549.06 56.23,549.33 56.56,549.58 56.89,549.93 57.23,550.22 57.23,551.42" fill="#f07fdc" stroke="#f07fdc" stroke-width="0.5" stroke-linejoin="round"/>
<line x1="48.43" y1="547.41" x2="48.43" y2="529.75" stroke="#111" stroke-width="1.1"/>
<polygon points="23.31,547.15 23.31,545.95 23.64,545.80 23.97,545.17 24.30,542.82 24.64,540.85 24.97,538.44 25.30,535.16 25.63,532.43 25.96,529.68 26.30,525.70 26.63,522.89 26.96,521.51 27.29,517.74 27.62,512.90 27.96,510.11 28.29,505.80 28.62,499.67 28.95,497.75 29.29,497.37 29.62,492.66 29.95,488.78 30.28,487.60 30.61,482.02 30.95,475.91 31.28,476.97 31.61,477.92 31.94,478.32 32.27,482.39 32.61,487.13 32.94,486.29 33.27,487.50 33.60,494.09 33.94,498.49 34.27,501.53 34.60,507.80 34.93,512.47 35.26,513.66 35.60,517.01 35.93,522.13 36.26,525.39 36.59,528.96 36.93,533.82 37.26,537.04 37.59,539.11 37.92,542.12 38.25,545.11 38.59,547.52 38.92,550.21 39.25,551.73 39.58,552.01 39.91,552.13 40.25,552.35 40.58,552.44 40.91,552.39 41.24,552.54 41.58,552.78 41.91,552.79 42.24,552.83 42.57,553.03 42.90,553.06 43.24,553.08 43.57,553.40 43.90,553.74 44.23,553.90 44.56,554.18 44.90,554.52 45.23,554.66 45.56,554.85 45.89,555.26 46.23,555.60 46.56,555.87 46.89,556.26 47.22,556.60 47.55,556.80 47.89,557.07 47.89,558.36" fill="#e2264f" stroke="#e2264f" stroke-width="0.5" stroke-linejoin="round"/>
<line x1="35.76" y1="552.83" x2="35.76" y2="523.50" stroke="#111" stroke-width="1.1"/>
<line x1="116.50" y1="476.90" x2="116.50" y2="394.90" stroke="#333" stroke-width="0.9"/>
<polygon points="116.50,476.90 164.20,498.50 212.30,476.90 164.60,455.30" fill="#fff"/>
<line x1="116.50" y1="476.90" x2="164.20" y2="498.50" stroke="#d8305a" stroke-width="1.0" opacity="1"/>
<line x1="128.53" y1="471.50" x2="176.22" y2="493.10" stroke="#e060c0" stroke-width="0.7" opacity="0.55"/>
<line x1="140.55" y1="466.10" x2="188.25" y2="487.70" stroke="#e07040" stroke-width="0.7" opacity="0.55"/>
<line x1="152.57" y1="460.70" x2="200.27" y2="482.30" stroke="#40c020" stroke-width="0.8" opacity="0.8"/>
<line x1="164.60" y1="455.30" x2="212.30" y2="476.90" stroke="#1a1a2a" stroke-width="0.9" opacity="1"/>
<line x1="116.50" y1="476.90" x2="164.60" y2="455.30" stroke="#1a1a1a" stroke-width="0.9"/>
<line x1="122.46" y1="479.60" x2="170.56" y2="458.00" stroke="#1a1a1a" stroke-width="0.9"/>
<line x1="128.43" y1="482.30" x2="176.53" y2="460.70" stroke="#1a1a1a" stroke-width="0.9"/>
<line x1="134.39" y1="485.00" x2="182.49" y2="463.40" stroke="#1a1a1a" stroke-width="0.9"/>
<line x1="140.35" y1="487.70" x2="188.45" y2="466.10" stroke="#1a1a1a" stroke-width="0.9"/>
<line x1="146.31" y1="490.40" x2="194.41" y2="468.80" stroke="#1a1a1a" stroke-width="0.9"/>
<line x1="152.28" y1="493.10" x2="200.38" y2="471.50" stroke="#1a1a1a" stroke-width="0.9"/>
<line x1="158.24" y1="495.80" x2="206.34" y2="474.20" stroke="#1a1a1a" stroke-width="0.9"/>
<line x1="164.20" y1="498.50" x2="212.30" y2="476.90" stroke="#1a1a1a" stroke-width="0.9"/>
<polygon points="171.75,458.54 171.75,457.85 172.10,456.94 172.44,455.72 172.78,454.61 173.12,453.20 173.46,451.33 173.80,450.00 174.14,448.96 174.48,447.09 174.82,445.39 175.16,444.23 175.50,441.72 175.84,438.75 176.18,437.72 176.53,436.71 176.87,434.54 177.21,433.91 177.55,433.68 177.89,430.80 178.23,429.25 178.57,430.72 178.91,431.20 179.25,431.23 179.59,433.52 179.93,434.93 180.27,433.71 180.61,433.64 180.95,434.82 181.29,434.39 181.64,434.60 181.98,436.99 182.32,437.90 182.66,438.07 183.00,440.83 183.34,442.44 183.68,442.49 184.02,443.82 184.36,446.32 184.70,447.33 185.04,447.79 185.38,449.15 185.72,449.81 186.06,449.72 186.41,450.82 186.75,452.33 187.09,452.75 187.43,453.28 187.77,454.40 188.11,453.92 188.45,452.20 188.79,451.54 189.13,450.85 189.47,449.07 189.81,447.96 190.15,447.12 190.49,444.22 190.84,441.27 191.18,440.47 191.52,439.14 191.86,437.27 192.20,437.78 192.54,440.16 192.88,440.04 193.22,441.24 193.56,444.06 193.90,445.73 194.24,447.81 194.58,451.44 194.92,453.99 195.26,455.40 195.60,457.59 195.95,459.85 196.29,461.48 196.63,463.46 196.97,465.64 197.31,467.29 197.65,468.78 197.99,469.79 197.99,470.42" fill="#2449dc" stroke="#2449dc" stroke-width="0.5" stroke-linejoin="round"/>
<line x1="187.83" y1="465.82" x2="187.83" y2="455.09" stroke="#111" stroke-width="1.1"/>
<polygon points="162.12,465.02 162.12,463.98 162.46,462.92 162.80,460.95 163.14,458.58 163.48,456.42 163.82,453.89 164.16,450.25 164.50,447.38 164.84,445.55 165.18,442.30 165.52,438.87 165.86,436.96 166.20,433.14 166.54,427.69 166.88,425.66 167.23,424.90 167.57,421.86 167.91,420.99 168.25,424.89 168.59,424.91 168.93,424.73 169.27,428.38 169.61,431.47 169.95,433.33 170.29,437.65 170.63,441.82 170.97,443.22 171.31,445.25 171.66,448.71 172.00,451.10 172.34,453.42 172.68,456.85 173.02,459.53 173.36,461.19 173.70,463.21 174.04,465.27 174.38,466.92 174.72,468.38 175.06,468.72 175.40,468.85 175.74,468.77 176.08,468.75 176.43,468.63 176.77,468.24 177.11,468.00 177.45,467.98 177.79,467.69 178.13,467.32 178.47,467.24 178.81,466.87 179.15,466.20 179.49,466.08 179.83,466.23 180.17,466.00 180.51,466.04 180.85,466.44 181.19,466.28 181.54,466.03 181.88,466.54 182.22,467.09 182.56,467.41 182.90,468.22 183.24,469.12 183.58,469.50 183.92,469.98 184.26,470.81 184.60,471.45 184.94,472.04 185.28,472.86 185.62,473.53 185.96,473.96 186.31,474.43 186.65,474.92 186.65,476.13" fill="#5fef25" stroke="#5fef25" stroke-width="0.5" stroke-linejoin="round"/>
<line x1="175.80" y1="471.22" x2="175.80" y2="469.01" stroke="#111" stroke-width="1.1"/>
<polygon points="151.45,471.04 151.45,470.06 151.79,469.66 152.13,467.36 152.48,464.58 152.82,461.54 153.16,459.31 153.50,456.70 153.84,452.84 154.18,449.68 154.52,446.39 154.86,440.83 155.20,436.47 155.54,435.00 155.88,431.73 156.22,427.53 156.56,426.32 156.90,423.43 157.25,417.32 157.59,417.66 157.93,422.61 158.27,424.58 158.61,427.76 158.95,433.36 159.29,435.72 159.63,436.74 159.97,441.03 160.31,445.44 160.65,448.27 160.99,452.49 161.33,456.95 161.67,459.31 162.02,461.51 162.36,464.61 162.70,467.13 163.04,469.33 163.38,471.89 163.72,473.48 164.06,473.52 164.40,473.52 164.74,473.62 165.08,473.47 165.42,473.30 165.76,473.51 166.10,473.64 166.44,473.49 166.79,473.57 167.13,473.75 167.47,473.65 167.81,473.80 168.15,474.37 168.49,474.76 168.83,475.04 169.17,475.59 169.51,476.03 169.85,476.27 170.19,476.75 170.53,477.36 170.87,477.81 171.21,478.25 171.56,478.76 171.90,479.12 171.90,480.29" fill="#f4844c" stroke="#f4844c" stroke-width="0.5" stroke-linejoin="round"/>
<line x1="163.78" y1="476.62" x2="163.78" y2="473.67" stroke="#111" stroke-width="1.1"/>
<polygon points="141.47,477.36 141.47,476.15 141.81,475.64 142.15,472.75 142.49,469.51 142.84,466.48 143.18,462.55 143.52,457.94 143.86,454.98 144.20,452.03 144.54,446.77 144.88,442.38 145.22,438.81 145.56,431.94 145.90,425.84 146.24,424.77 146.58,422.40 146.92,417.69 147.26,416.96 147.61,418.42 147.95,417.13 148.29,419.78 148.63,426.75 148.97,430.96 149.31,435.18 149.65,442.17 149.99,446.68 150.33,448.98 150.67,453.67 151.01,458.93 151.35,462.63 151.69,466.82 152.03,471.28 152.38,474.39 152.72,477.19 153.06,480.10 153.40,480.58 153.74,480.83 154.08,481.12 154.42,481.40 154.76,481.44 155.10,481.43 155.44,481.54 155.78,481.53 156.12,481.49 156.46,481.69 156.80,481.93 157.15,481.99 157.49,482.15 157.83,482.41 158.17,482.53 158.51,482.72 158.85,483.14 159.19,483.51 159.53,483.78 159.87,484.15 160.21,484.50 160.55,484.74 160.55,486.00" fill="#f07fdc" stroke="#f07fdc" stroke-width="0.5" stroke-linejoin="round"/>
<line x1="151.75" y1="482.02" x2="151.75" y2="469.12" stroke="#111" stroke-width="1.1"/>
<polygon points="131.15,483.53 131.15,482.52 131.49,482.24 131.83,481.19 132.17,477.72 132.51,474.67 132.85,470.73 133.19,465.96 133.54,461.94 133.88,456.80 134.22,450.07 134.56,446.01 134.90,443.17 135.24,436.83 135.58,431.03 135.92,427.69 136.26,420.35 136.60,412.49 136.94,411.93 137.28,411.55 137.62,410.71 137.97,415.86 138.31,421.90 138.65,422.57 138.99,425.57 139.33,433.79 139.67,439.87 140.01,444.69 140.35,452.05 140.69,457.80 141.03,460.83 141.37,465.33 141.71,470.69 142.05,474.71 142.39,478.73 142.74,482.95 143.08,485.98 143.42,486.33 143.76,486.76 144.10,487.12 144.44,487.31 144.78,487.58 145.12,487.95 145.46,488.16 145.80,488.30 146.14,488.58 146.48,488.81 146.82,489.00 147.16,489.33 147.50,489.69 147.50,490.94" fill="#e2264f" stroke="#e2264f" stroke-width="0.5" stroke-linejoin="round"/>
<line x1="139.73" y1="487.42" x2="139.73" y2="445.37" stroke="#111" stroke-width="1.1"/>
<line x1="218.50" y1="476.90" x2="218.50" y2="394.90" stroke="#333" stroke-width="0.9"/>
<polygon points="218.50,476.90 266.50,498.50 315.00,476.90 267.00,455.30" fill="#fff"/>
<line x1="218.50" y1="476.90" x2="266.50" y2="498.50" stroke="#d8305a" stroke-width="1.0" opacity="1"/>
<line x1="230.62" y1="471.50" x2="278.62" y2="493.10" stroke="#e060c0" stroke-width="0.7" opacity="0.55"/>
<line x1="242.75" y1="466.10" x2="290.75" y2="487.70" stroke="#e07040" stroke-width="0.7" opacity="0.55"/>
<line x1="254.88" y1="460.70" x2="302.88" y2="482.30" stroke="#40c020" stroke-width="0.8" opacity="0.8"/>
<line x1="267.00" y1="455.30" x2="315.00" y2="476.90" stroke="#1a1a2a" stroke-width="0.9" opacity="1"/>
<line x1="218.50" y1="476.90" x2="267.00" y2="455.30" stroke="#1a1a1a" stroke-width="0.9"/>
<line x1="224.50" y1="479.60" x2="273.00" y2="458.00" stroke="#1a1a1a" stroke-width="0.9"/>
<line x1="230.50" y1="482.30" x2="279.00" y2="460.70" stroke="#1a1a1a" stroke-width="0.9"/>
<line x1="236.50" y1="485.00" x2="285.00" y2="463.40" stroke="#1a1a1a" stroke-width="0.9"/>
<line x1="242.50" y1="487.70" x2="291.00" y2="466.10" stroke="#1a1a1a" stroke-width="0.9"/>
<line x1="248.50" y1="490.40" x2="297.00" y2="468.80" stroke="#1a1a1a" stroke-width="0.9"/>
<line x1="254.50" y1="493.10" x2="303.00" y2="471.50" stroke="#1a1a1a" stroke-width="0.9"/>
<line x1="260.50" y1="495.80" x2="309.00" y2="474.20" stroke="#1a1a1a" stroke-width="0.9"/>
<line x1="266.50" y1="498.50" x2="315.00" y2="476.90" stroke="#1a1a1a" stroke-width="0.9"/>
<polygon points="275.91,459.31 275.91,458.55 276.26,457.85 276.60,456.70 276.94,455.30 277.29,453.87 277.63,452.63 277.97,450.66 278.31,448.27 278.66,446.83 279.00,445.34 279.34,442.98 279.69,441.57 280.03,440.41 280.37,437.16 280.71,434.14 281.06,433.27 281.40,431.54 281.74,429.36 282.09,429.42 282.43,429.06 282.77,427.24 283.11,427.10 283.46,428.70 283.80,428.49 284.14,429.06 284.49,432.15 284.83,433.32 285.17,432.40 285.51,433.31 285.86,434.38 286.20,433.81 286.54,435.35 286.89,440.30 287.23,443.27 287.57,445.06 287.91,447.10 288.26,448.35 288.60,448.88 288.94,450.68 289.29,452.78 289.63,453.72 289.97,454.68 290.31,455.95 290.66,456.34 291.00,456.47 291.34,456.94 291.69,456.37 292.03,454.96 292.37,453.97 292.71,453.13 293.06,450.77 293.40,448.20 293.74,447.09 294.09,445.50 294.43,443.41 294.77,443.31 295.11,443.20 295.46,442.74 295.80,443.82 296.14,446.31 296.49,447.80 296.83,449.72 297.17,453.07 297.51,455.47 297.86,456.85 298.20,458.95 298.54,461.09 298.89,462.67 299.23,464.54 299.57,466.54 299.91,468.07 300.26,469.47 300.26,470.27" fill="#2449dc" stroke="#2449dc" stroke-width="0.5" stroke-linejoin="round"/>
<line x1="290.52" y1="465.88" x2="290.52" y2="456.98" stroke="#111" stroke-width="1.1"/>
<polygon points="264.82,465.17 264.82,464.15 265.16,462.81 265.50,460.59 265.85,458.49 266.19,456.07 266.53,452.68 266.88,449.89 267.22,447.98 267.56,444.79 267.90,441.38 268.25,439.30 268.59,435.42 268.93,429.93 269.27,427.59 269.62,426.45 269.96,423.09 270.30,421.76 270.65,422.78 270.99,422.51 271.33,422.00 271.68,425.57 272.02,428.57 272.36,430.27 272.70,434.67 273.05,438.98 273.39,440.25 273.73,442.24 274.07,445.88 274.42,448.33 274.76,450.71 275.10,454.44 275.45,457.33 275.79,459.00 276.13,461.12 276.48,463.33 276.82,465.00 277.16,466.83 277.50,468.31 277.85,468.50 278.19,468.45 278.53,468.48 278.88,468.40 279.22,468.05 279.56,467.87 279.90,467.92 280.25,467.70 280.59,467.42 280.93,467.41 281.27,467.15 281.62,466.61 281.96,466.60 282.30,466.85 282.65,466.75 282.99,466.90 283.33,467.36 283.68,467.36 284.02,467.29 284.36,467.87 284.70,468.46 285.05,468.85 285.39,469.62 285.73,470.44 286.07,470.84 286.42,471.31 286.76,472.02 287.10,472.57 287.45,473.08 287.79,473.72 288.13,474.25 288.48,474.62 288.48,475.82" fill="#5fef25" stroke="#5fef25" stroke-width="0.5" stroke-linejoin="round"/>
<line x1="278.39" y1="471.28" x2="278.39" y2="468.73" stroke="#111" stroke-width="1.1"/>
<polygon points="253.72,471.04 253.72,469.74 254.06,467.49 254.41,465.16 254.75,462.19 255.09,459.00 255.44,456.83 255.78,454.20 256.12,450.17 256.46,447.00 256.81,443.75 257.15,438.07 257.49,433.81 257.84,432.71 258.18,429.72 258.52,425.82 258.86,425.06 259.21,422.58 259.55,418.56 259.89,421.00 260.24,426.04 260.58,428.27 260.92,431.60 261.26,437.09 261.61,439.58 261.95,440.86 262.29,445.00 262.64,449.20 262.98,451.97 263.32,455.89 263.66,459.96 264.01,462.23 264.35,464.35 264.69,467.18 265.04,469.52 265.38,471.62 265.72,473.44 266.06,473.78 266.41,473.75 266.75,473.70 267.09,473.74 267.44,473.56 267.78,473.37 268.12,473.55 268.46,473.66 268.81,473.50 269.15,473.58 269.49,473.75 269.84,473.65 270.18,473.79 270.52,474.36 270.86,474.75 271.21,475.04 271.55,475.58 271.89,476.02 272.24,476.27 272.58,476.75 272.92,477.36 273.26,477.81 273.61,478.25 273.95,478.75 274.29,479.12 274.29,480.29" fill="#f4844c" stroke="#f4844c" stroke-width="0.5" stroke-linejoin="round"/>
<line x1="266.27" y1="476.68" x2="266.27" y2="473.98" stroke="#111" stroke-width="1.1"/>
<polygon points="244.00,477.52 244.00,476.33 244.34,475.26 244.68,472.31 245.03,469.45 245.37,465.88 245.71,461.70 246.05,458.82 246.40,455.94 246.74,451.05 247.08,446.84 247.43,443.29 247.77,436.72 248.11,430.73 248.45,429.25 248.80,426.57 249.14,421.67 249.48,420.48 249.82,418.77 250.17,415.96 250.51,418.09 250.85,424.72 251.20,428.57 251.54,432.48 251.88,439.41 252.22,443.80 252.57,445.84 252.91,450.54 253.25,455.96 253.60,459.67 253.94,464.01 254.28,468.76 254.62,471.94 254.97,474.68 255.31,477.90 255.65,480.24 256.00,480.57 256.34,480.94 256.68,481.28 257.02,481.36 257.37,481.38 257.71,481.50 258.05,481.51 258.40,481.48 258.74,481.69 259.08,481.93 259.43,481.99 259.77,482.15 260.11,482.42 260.45,482.54 260.80,482.72 261.14,483.14 261.48,483.51 261.82,483.78 262.17,484.15 262.51,484.50 262.85,484.74 262.85,486.00" fill="#f07fdc" stroke="#f07fdc" stroke-width="0.5" stroke-linejoin="round"/>
<line x1="254.15" y1="482.08" x2="254.15" y2="468.09" stroke="#111" stroke-width="1.1"/>
<polygon points="233.59,483.69 233.59,482.82 233.93,482.53 234.27,482.17 234.61,479.61 234.96,476.09 235.30,471.92 235.64,468.18 235.99,463.55 236.33,457.57 236.67,453.56 237.01,450.50 237.36,444.44 237.70,438.68 238.04,434.92 238.39,427.51 238.73,419.44 239.07,417.88 239.41,416.52 239.76,411.26 240.10,411.65 240.44,417.02 240.79,416.64 241.13,418.79 241.47,426.88 241.81,432.76 242.16,437.33 242.50,445.07 242.84,451.12 243.19,453.94 243.53,458.64 243.87,464.60 244.21,468.89 244.56,473.25 244.90,478.13 245.24,481.82 245.59,485.01 245.93,486.29 246.27,486.83 246.61,487.14 246.96,487.51 247.30,487.95 247.64,488.20 247.99,488.38 248.33,488.67 248.67,488.91 249.01,489.10 249.36,489.43 249.70,489.78 249.70,490.94" fill="#e2264f" stroke="#e2264f" stroke-width="0.5" stroke-linejoin="round"/>
<line x1="242.02" y1="487.48" x2="242.02" y2="440.99" stroke="#111" stroke-width="1.1"/>
<line x1="118.50" y1="628.80" x2="118.50" y2="546.80" stroke="#333" stroke-width="0.9"/>
<polygon points="118.50,628.80 168.50,648.10 211.50,625.40 161.50,606.10" fill="#fff"/>
<line x1="118.50" y1="628.80" x2="168.50" y2="648.10" stroke="#d8305a" stroke-width="1.0" opacity="1"/>
<line x1="129.25" y1="623.12" x2="179.25" y2="642.42" stroke="#e060c0" stroke-width="0.7" opacity="0.55"/>
<line x1="140.00" y1="617.45" x2="190.00" y2="636.75" stroke="#e07040" stroke-width="0.7" opacity="0.55"/>
<line x1="150.75" y1="611.77" x2="200.75" y2="631.07" stroke="#40c020" stroke-width="0.8" opacity="0.8"/>
<line x1="161.50" y1="606.10" x2="211.50" y2="625.40" stroke="#1a1a2a" stroke-width="0.9" opacity="1"/>
<line x1="118.50" y1="628.80" x2="161.50" y2="606.10" stroke="#1a1a1a" stroke-width="0.9"/>
<line x1="124.75" y1="631.21" x2="167.75" y2="608.51" stroke="#1a1a1a" stroke-width="0.9"/>
<line x1="131.00" y1="633.62" x2="174.00" y2="610.92" stroke="#1a1a1a" stroke-width="0.9"/>
<line x1="137.25" y1="636.04" x2="180.25" y2="613.34" stroke="#1a1a1a" stroke-width="0.9"/>
<line x1="143.50" y1="638.45" x2="186.50" y2="615.75" stroke="#1a1a1a" stroke-width="0.9"/>
<line x1="149.75" y1="640.86" x2="192.75" y2="618.16" stroke="#1a1a1a" stroke-width="0.9"/>
<line x1="156.00" y1="643.27" x2="199.00" y2="620.57" stroke="#1a1a1a" stroke-width="0.9"/>
<line x1="162.25" y1="645.69" x2="205.25" y2="622.99" stroke="#1a1a1a" stroke-width="0.9"/>
<line x1="168.50" y1="648.10" x2="211.50" y2="625.40" stroke="#1a1a1a" stroke-width="0.9"/>
<polygon points="171.14,609.82 171.14,608.80 171.50,607.97 171.86,606.97 172.21,605.94 172.57,605.05 172.93,603.63 173.29,601.90 173.64,600.85 174.00,599.77 174.36,598.05 174.71,597.01 175.07,596.16 175.43,593.76 175.79,591.52 176.14,590.84 176.50,589.52 176.86,587.68 177.21,587.18 177.57,586.53 177.93,584.86 178.29,584.42 178.64,585.33 179.00,584.76 179.36,584.83 179.71,587.03 180.07,587.70 180.43,586.11 180.79,586.06 181.14,586.20 181.50,584.75 181.86,586.40 182.21,589.63 182.57,590.86 182.93,591.37 183.29,593.20 183.64,593.55 184.00,592.60 184.36,593.45 184.71,595.04 185.07,595.08 185.43,595.36 185.79,596.54 186.14,596.72 186.50,597.21 186.86,599.42 187.21,601.49 187.57,602.18 187.93,603.21 188.29,604.40 188.64,604.39 189.00,604.47 189.36,605.50 189.71,606.14 190.07,606.42 190.43,607.41 190.79,608.15 191.14,607.94 191.50,608.07 191.86,608.71 192.21,608.88 192.57,609.18 192.93,610.18 193.29,610.85 193.64,610.84 194.00,611.26 194.36,611.80 194.71,611.93 195.07,612.41 195.43,613.33 195.79,613.81 196.14,614.07 196.50,614.65 196.86,615.09 197.21,615.30 197.57,615.87 197.93,616.60 198.29,617.02 198.64,617.43 199.00,617.98 199.36,618.34 199.71,618.64 200.07,619.13 200.43,619.61 200.79,619.98 200.79,621.26" fill="#2449dc" stroke="#2449dc" stroke-width="0.5" stroke-linejoin="round"/>
<line x1="186.90" y1="615.90" x2="186.90" y2="601.56" stroke="#111" stroke-width="1.1"/>
<polygon points="160.75,615.63 160.75,614.94 161.11,614.44 161.46,613.43 161.82,612.21 162.18,611.13 162.54,609.86 162.89,608.01 163.25,606.58 163.61,605.71 163.96,604.06 164.32,602.29 164.68,601.27 165.04,599.16 165.39,596.07 165.75,594.70 166.11,593.92 166.46,591.17 166.82,589.50 167.18,588.96 167.54,585.72 167.89,581.91 168.25,582.37 168.61,582.85 168.96,582.06 169.32,583.84 169.68,585.76 170.04,584.31 170.39,583.55 170.75,585.10 171.11,585.15 171.46,585.20 171.82,588.18 172.18,590.68 172.54,591.13 172.89,592.94 173.25,595.47 173.61,596.41 173.96,598.24 174.32,601.70 174.68,603.85 175.04,605.02 175.39,607.04 175.75,608.72 176.11,609.57 176.46,610.71 176.82,612.05 177.18,612.60 177.54,612.99 177.89,613.81 178.25,614.12 178.61,614.00 178.96,614.60 179.32,615.12 179.68,615.00 180.04,615.14 180.39,615.64 180.75,615.49 181.11,615.19 181.46,615.61 181.82,616.02 182.18,616.10 182.54,616.70 182.89,617.40 183.25,617.42 183.61,617.54 183.96,618.15 184.32,618.52 184.68,618.83 185.04,619.63 185.39,620.30 185.75,620.52 186.11,620.92 186.46,621.49 186.82,621.80 187.18,622.21 187.54,622.90 187.89,623.39 188.25,623.69 188.61,624.12 188.96,624.51 189.32,624.77 189.68,625.12 190.04,625.56 190.39,625.88 190.39,627.08" fill="#5fef25" stroke="#5fef25" stroke-width="0.5" stroke-linejoin="round"/>
<line x1="174.75" y1="621.04" x2="174.75" y2="605.29" stroke="#111" stroke-width="1.1"/>
<polygon points="150.71,621.59 150.71,620.53 151.07,619.45 151.43,617.67 151.79,615.79 152.14,614.05 152.50,611.63 152.86,609.10 153.21,607.71 153.57,605.87 153.93,602.78 154.29,600.54 154.64,598.24 155.00,593.89 155.36,590.75 155.71,590.19 156.07,587.98 156.43,584.92 156.79,584.33 157.14,582.21 157.50,577.31 157.86,575.89 158.21,579.10 158.57,579.86 158.93,581.56 159.29,585.48 159.64,586.28 160.00,585.57 160.36,588.19 160.71,591.11 161.07,592.32 161.43,595.41 161.79,599.23 162.14,600.32 162.50,601.22 162.86,603.89 163.21,605.80 163.57,607.18 163.93,610.00 164.29,612.57 164.64,613.63 165.00,614.96 165.36,616.74 165.71,617.81 166.07,618.94 166.43,620.71 166.79,622.10 167.14,623.01 167.50,623.67 167.86,623.75 168.21,623.48 168.57,623.40 168.93,623.74 169.29,623.87 169.64,623.86 170.00,624.19 170.36,624.38 170.71,624.23 171.07,624.43 171.43,624.91 171.79,625.11 172.14,625.35 172.50,625.85 172.86,626.05 173.21,626.05 173.57,626.40 173.93,626.82 174.29,627.05 174.64,627.45 175.00,627.96 175.36,628.18 175.71,628.35 176.07,628.74 176.43,629.06 176.79,629.31 177.14,629.72 177.50,630.14 177.86,630.36 178.21,630.60 178.57,630.93 178.93,631.16 179.29,631.40 179.29,632.61" fill="#f4844c" stroke="#f4844c" stroke-width="0.5" stroke-linejoin="round"/>
<line x1="164.25" y1="626.81" x2="164.25" y2="613.08" stroke="#111" stroke-width="1.1"/>
<polygon points="141.75,627.95 141.75,626.72 142.11,625.71 142.46,623.63 142.82,621.81 143.18,620.24 143.54,617.81 143.89,615.16 144.25,613.08 144.61,609.99 144.96,606.38 145.32,604.76 145.68,603.14 146.04,599.33 146.39,596.46 146.75,594.35 147.11,589.35 147.46,585.04 147.82,584.85 148.18,583.38 148.54,579.84 148.89,579.37 149.25,578.25 149.61,572.86 149.96,573.61 150.32,578.35 150.68,580.35 151.04,582.28 151.39,587.34 151.75,589.83 152.11,589.61 152.46,592.55 152.82,596.74 153.18,598.88 153.54,602.28 153.89,607.00 154.25,609.29 154.61,610.68 154.96,613.68 155.32,616.35 155.68,618.22 156.04,621.04 156.39,623.91 156.75,625.64 157.11,627.33 157.46,629.32 157.82,631.01 158.18,631.29 158.54,631.61 158.89,631.89 159.25,631.90 159.61,631.97 159.96,632.13 160.32,632.07 160.68,632.07 161.04,632.38 161.39,632.63 161.75,632.73 162.11,633.01 162.46,633.29 162.82,633.36 163.18,633.58 163.54,634.00 163.89,634.31 164.25,634.60 164.61,635.01 164.96,635.32 165.32,635.53 165.68,635.83 166.04,636.18 166.04,637.32" fill="#f07fdc" stroke="#f07fdc" stroke-width="0.5" stroke-linejoin="round"/>
<line x1="154.65" y1="632.93" x2="154.65" y2="613.66" stroke="#111" stroke-width="1.1"/>
<polygon points="130.64,633.49 130.64,632.28 131.00,631.99 131.36,630.26 131.71,628.42 132.07,626.20 132.43,624.03 132.79,622.59 133.14,620.34 133.50,616.96 133.86,614.49 134.21,612.04 134.57,608.18 134.93,605.80 135.29,605.03 135.64,601.66 136.00,597.23 136.36,595.04 136.71,591.34 137.07,585.88 137.43,584.71 137.79,585.03 138.14,581.13 138.50,578.06 138.86,577.55 139.21,572.89 139.57,567.76 139.93,569.51 140.29,573.85 140.64,574.31 141.00,577.89 141.36,582.00 141.71,581.24 142.07,582.18 142.43,587.75 142.79,591.38 143.14,593.79 143.50,599.03 143.86,602.86 144.21,603.56 144.57,606.17 144.93,610.42 145.29,612.98 145.64,615.83 146.00,620.00 146.36,622.60 146.71,624.02 147.07,626.45 147.43,628.91 147.79,630.69 148.14,632.90 148.50,635.28 148.86,636.56 149.21,636.57 149.57,636.79 149.93,636.88 150.29,636.79 150.64,637.05 151.00,637.45 151.36,637.54 151.71,637.67 152.07,638.00 152.43,638.10 152.79,638.16 153.14,638.59 153.50,639.03 153.86,639.25 154.21,639.61 154.57,640.03 154.93,640.21 155.29,640.45 155.64,640.91 156.00,641.28 156.36,641.58 156.71,641.98 157.07,642.33 157.43,642.55 157.43,643.83" fill="#e2264f" stroke="#e2264f" stroke-width="0.5" stroke-linejoin="round"/>
<line x1="144.70" y1="638.91" x2="144.70" y2="611.52" stroke="#111" stroke-width="1.1"/>
<line x1="218.10" y1="628.50" x2="218.10" y2="546.50" stroke="#333" stroke-width="0.9"/>
<polygon points="218.10,628.50 269.60,648.50 311.50,625.40 260.00,605.40" fill="#fff"/>
<line x1="218.10" y1="628.50" x2="269.60" y2="648.50" stroke="#d8305a" stroke-width="1.0" opacity="1"/>
<line x1="228.57" y1="622.73" x2="280.08" y2="642.73" stroke="#e060c0" stroke-width="0.7" opacity="0.55"/>
<line x1="239.05" y1="616.95" x2="290.55" y2="636.95" stroke="#e07040" stroke-width="0.7" opacity="0.55"/>
<line x1="249.52" y1="611.17" x2="301.03" y2="631.17" stroke="#40c020" stroke-width="0.8" opacity="0.8"/>
<line x1="260.00" y1="605.40" x2="311.50" y2="625.40" stroke="#1a1a2a" stroke-width="0.9" opacity="1"/>
<line x1="218.10" y1="628.50" x2="260.00" y2="605.40" stroke="#1a1a1a" stroke-width="0.9"/>
<line x1="224.54" y1="631.00" x2="266.44" y2="607.90" stroke="#1a1a1a" stroke-width="0.9"/>
<line x1="230.97" y1="633.50" x2="272.88" y2="610.40" stroke="#1a1a1a" stroke-width="0.9"/>
<line x1="237.41" y1="636.00" x2="279.31" y2="612.90" stroke="#1a1a1a" stroke-width="0.9"/>
<line x1="243.85" y1="638.50" x2="285.75" y2="615.40" stroke="#1a1a1a" stroke-width="0.9"/>
<line x1="250.29" y1="641.00" x2="292.19" y2="617.90" stroke="#1a1a1a" stroke-width="0.9"/>
<line x1="256.73" y1="643.50" x2="298.62" y2="620.40" stroke="#1a1a1a" stroke-width="0.9"/>
<line x1="263.16" y1="646.00" x2="305.06" y2="622.90" stroke="#1a1a1a" stroke-width="0.9"/>
<line x1="269.60" y1="648.50" x2="311.50" y2="625.40" stroke="#1a1a1a" stroke-width="0.9"/>
<polygon points="274.71,611.11 274.71,610.33 275.08,609.70 275.45,608.98 275.82,608.14 276.19,607.52 276.55,606.79 276.92,605.49 277.29,604.32 277.66,603.48 278.02,602.14 278.39,601.01 278.76,600.87 279.13,600.21 279.50,598.74 279.86,598.17 280.23,598.57 280.60,598.69 280.97,599.43 281.34,601.03 281.70,601.67 282.07,601.94 282.44,602.88 282.81,603.32 283.18,603.20 283.54,603.93 283.91,604.93 284.28,605.12 284.65,605.38 285.01,606.03 285.38,606.00 285.75,605.31 286.12,605.30 286.49,605.33 286.85,604.71 287.22,604.56 287.59,604.54 287.96,603.29 288.32,601.94 288.69,601.67 289.06,600.94 289.43,599.72 289.80,599.75 290.16,599.58 290.53,597.52 290.90,595.91 291.27,595.42 291.64,594.18 292.00,593.19 292.37,594.14 292.74,593.87 293.11,591.54 293.47,590.44 293.84,589.67 294.21,587.02 294.58,585.84 294.95,587.12 295.31,586.38 295.68,584.51 296.05,586.37 296.42,587.93 296.79,588.12 297.15,590.97 297.52,595.07 297.89,597.21 298.26,599.46 298.62,602.67 298.99,604.62 299.36,606.20 299.73,609.04 300.10,611.74 300.46,613.67 300.83,615.78 301.20,617.81 301.57,619.40 301.94,620.85 301.94,621.69" fill="#2449dc" stroke="#2449dc" stroke-width="0.5" stroke-linejoin="round"/>
<line x1="286.01" y1="615.50" x2="286.01" y2="606.60" stroke="#111" stroke-width="1.1"/>
<polygon points="262.77,616.32 262.77,615.57 263.14,614.41 263.50,612.97 263.87,611.66 264.24,609.91 264.61,607.58 264.97,605.83 265.34,604.32 265.71,601.95 266.08,600.09 266.45,598.90 266.81,595.93 267.18,592.47 267.55,591.17 267.92,589.67 268.29,587.26 268.65,587.24 269.02,588.34 269.39,587.99 269.76,588.43 270.12,590.92 270.49,591.52 270.86,592.09 271.23,594.90 271.60,596.82 271.96,596.65 272.33,597.41 272.70,598.67 273.07,598.45 273.44,598.92 273.80,601.03 274.17,602.00 274.54,601.97 274.91,603.09 275.27,604.90 275.64,605.92 276.01,607.15 276.38,609.20 276.75,610.33 277.11,611.33 277.48,612.85 277.85,613.73 278.22,613.34 278.59,613.58 278.95,613.94 279.32,613.57 279.69,613.32 280.06,613.32 280.43,612.34 280.79,610.95 281.16,610.41 281.53,609.45 281.90,607.93 282.26,607.57 282.63,607.66 283.00,607.39 283.37,607.68 283.74,609.23 284.10,610.27 284.47,611.25 284.84,613.34 285.21,615.10 285.57,615.94 285.94,617.17 286.31,618.65 286.68,619.68 287.05,620.85 287.41,622.30 287.78,623.43 288.15,624.35 288.52,625.34 288.52,626.32" fill="#5fef25" stroke="#5fef25" stroke-width="0.5" stroke-linejoin="round"/>
<line x1="275.53" y1="621.27" x2="275.53" y2="607.63" stroke="#111" stroke-width="1.1"/>
<polygon points="251.19,621.66 251.19,620.67 251.56,620.27 251.92,618.07 252.29,615.65 252.66,613.74 253.03,611.60 253.40,608.56 253.76,605.99 254.13,603.29 254.50,598.81 254.87,595.13 255.24,593.60 255.60,590.57 255.97,586.65 256.34,585.03 256.71,581.91 257.07,575.91 257.44,573.41 257.81,573.63 258.18,571.09 258.55,572.82 258.91,577.49 259.28,578.50 259.65,577.81 260.02,581.18 260.39,584.94 260.75,586.74 261.12,590.75 261.49,595.58 261.86,597.30 262.23,598.83 262.59,602.27 262.96,604.86 263.33,606.84 263.70,610.23 264.06,613.25 264.43,614.79 264.80,616.56 265.17,618.68 265.54,620.20 265.90,621.77 266.27,623.03 266.64,623.27 267.01,623.14 267.38,623.21 267.74,623.32 268.11,623.09 268.48,623.10 268.85,623.57 269.21,623.82 269.58,623.89 269.95,624.27 270.32,624.48 270.69,624.39 271.05,624.63 271.42,625.13 271.79,625.37 272.16,625.65 272.52,626.16 272.89,626.40 273.26,626.46 273.63,626.83 274.00,627.27 274.36,627.52 274.73,627.92 275.10,628.42 275.47,628.66 275.84,628.85 276.20,629.23 276.57,629.55 276.94,629.80 277.31,630.18 277.68,630.56 278.04,630.78 278.41,631.02 278.41,632.24" fill="#f4844c" stroke="#f4844c" stroke-width="0.5" stroke-linejoin="round"/>
<line x1="265.06" y1="627.05" x2="265.06" y2="618.92" stroke="#111" stroke-width="1.1"/>
<polygon points="242.55,628.15 242.55,627.03 242.92,626.80 243.29,624.02 243.66,620.89 244.02,617.94 244.39,614.15 244.76,609.70 245.13,606.82 245.50,603.93 245.86,598.84 246.23,594.56 246.60,591.06 246.97,584.38 247.34,578.43 247.70,577.31 248.07,574.93 248.44,570.28 248.81,569.49 249.17,570.08 249.54,568.16 249.91,569.93 250.28,575.97 250.65,579.15 251.01,582.29 251.38,588.48 251.75,592.07 252.12,593.12 252.49,597.06 252.85,601.95 253.22,604.97 253.59,608.89 253.96,613.64 254.32,616.40 254.69,618.51 255.06,621.60 255.43,624.37 255.80,626.68 256.16,629.33 256.53,630.58 256.90,630.76 257.27,630.86 257.64,631.08 258.00,631.14 258.37,631.13 258.74,631.40 259.11,631.70 259.48,631.76 259.84,631.92 260.21,632.19 260.58,632.26 260.95,632.38 261.31,632.78 261.68,633.12 262.05,633.32 262.42,633.66 262.79,633.98 263.15,634.14 263.52,634.40 263.89,634.80 264.26,635.10 264.62,635.38 264.99,635.73 264.99,636.87" fill="#f07fdc" stroke="#f07fdc" stroke-width="0.5" stroke-linejoin="round"/>
<line x1="254.58" y1="632.83" x2="254.58" y2="619.44" stroke="#111" stroke-width="1.1"/>
<polygon points="234.29,634.79 234.29,633.60 234.65,633.17 235.02,631.05 235.39,627.86 235.76,623.98 236.12,619.33 236.49,615.30 236.86,610.21 237.23,603.59 237.60,599.39 237.96,596.31 238.33,589.85 238.70,583.83 239.07,580.12 239.44,572.45 239.80,564.16 240.17,563.06 240.54,562.15 240.91,557.17 241.28,561.77 241.64,567.26 242.01,566.84 242.38,568.83 242.75,576.73 243.11,582.31 243.48,586.50 243.85,593.95 244.22,599.67 244.59,601.96 244.95,606.29 245.32,612.09 245.69,616.11 246.06,620.29 246.43,625.29 246.79,628.89 247.16,631.76 247.53,635.18 247.90,636.25 248.26,636.59 248.63,637.06 249.00,637.64 249.37,637.92 249.74,638.09 250.10,638.41 250.47,638.65 250.84,638.79 251.21,639.13 251.57,639.53 251.94,639.76 252.31,639.99 252.68,640.32 253.05,640.54 253.41,640.74 253.78,641.08 253.78,642.36" fill="#e2264f" stroke="#e2264f" stroke-width="0.5" stroke-linejoin="round"/>
<line x1="244.11" y1="638.60" x2="244.11" y2="600.29" stroke="#111" stroke-width="1.1"/>
<line x1="240.9" y1="548" x2="240.9" y2="562" stroke="#e2264f" stroke-width="0.7"/>
</g>
</svg>
</body></html>
